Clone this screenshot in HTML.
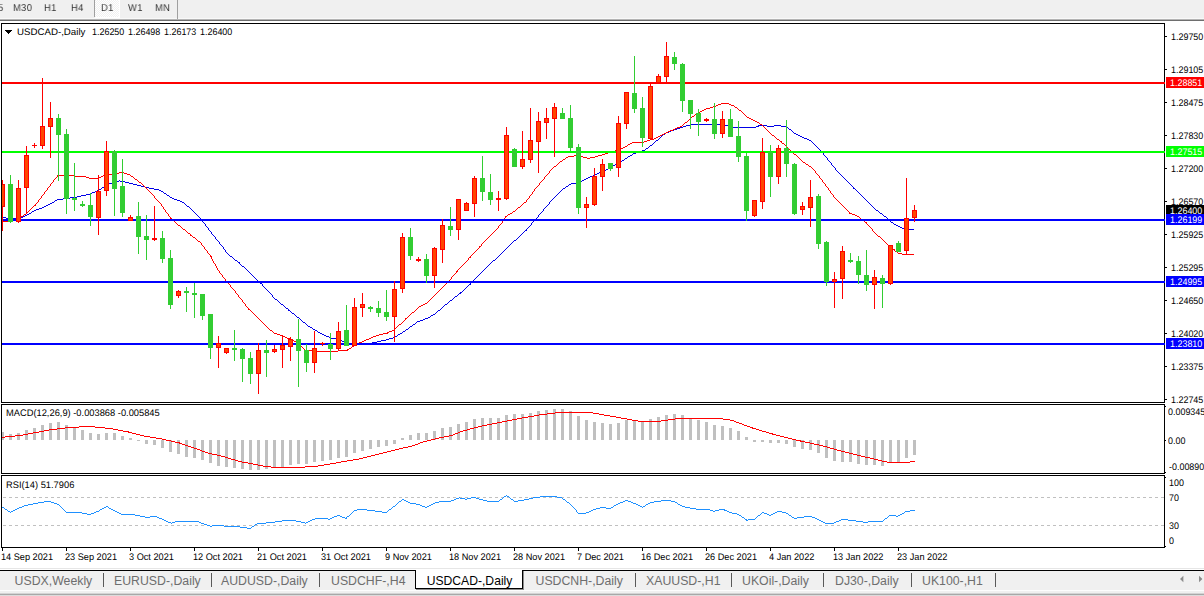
<!DOCTYPE html><html><head><meta charset="utf-8"><title>USDCAD-,Daily</title><style>

html,body{margin:0;padding:0;background:#fff;}
body{width:1204px;height:596px;position:relative;overflow:hidden;font-family:"Liberation Sans",sans-serif;}
.t{position:absolute;white-space:nowrap;line-height:1;color:#000;}
.ax{font-size:9.5px;transform:scaleX(.94);transform-origin:0 0;text-rendering:geometricPrecision;}
.tb{font-size:10px;color:#333;transform:scaleX(.93);transform-origin:0 0;text-rendering:geometricPrecision;letter-spacing:.45px;will-change:transform;}
.tab{font-size:12.3px;color:#6e6e6e;}
.tag{position:absolute;left:1166px;width:38px;height:11px;}
.tag span{position:absolute;left:4px;top:1.5px;font-size:9.5px;line-height:9.5px;color:#fff;white-space:nowrap;transform:scaleX(.94);text-rendering:geometricPrecision;transform-origin:0 0;}

</style></head><body>
<div style="position:absolute;left:0;top:0;width:1204px;height:19px;background:#f0f0f0"></div>
<div style="position:absolute;left:0;top:19px;width:1204px;height:1px;background:#b4b4b4"></div>
<div style="position:absolute;left:0;top:20px;width:1204px;height:1px;background:#6e6e6e"></div>
<div style="position:absolute;left:0;top:18px;width:1204px;height:1px;background:#f9f9f9"></div>
<div style="position:absolute;left:95px;top:0;width:25px;height:18px;background:#fff"></div>
<div style="position:absolute;left:95px;top:0;width:24px;height:17px;background:repeating-conic-gradient(#fff 0% 25%,#f0f0f0 0% 50%) 0 0/2px 2px"></div>
<div style="position:absolute;left:94px;top:0;width:1px;height:17px;background:#a0a0a0"></div>
<div style="position:absolute;left:177px;top:0;width:1px;height:19px;background:#a0a0a0"></div>
<svg width="1204" height="596" viewBox="0 0 1204 596" shape-rendering="crispEdges" style="position:absolute;left:0;top:0"><rect x="1" y="23" width="1164" height="1" fill="#000"/><rect x="1" y="402" width="1164" height="1" fill="#000"/><rect x="1" y="23" width="1" height="380" fill="#000"/><rect x="1164" y="23" width="1" height="380" fill="#000"/><rect x="1" y="404" width="1164" height="1" fill="#000"/><rect x="1" y="473" width="1164" height="1" fill="#000"/><rect x="1" y="404" width="1" height="70" fill="#000"/><rect x="1164" y="404" width="1" height="70" fill="#000"/><rect x="1" y="475" width="1164" height="1" fill="#000"/><rect x="1" y="547" width="1164" height="1" fill="#000"/><rect x="1" y="475" width="1" height="73" fill="#000"/><rect x="1164" y="475" width="1" height="73" fill="#000"/><rect x="691" y="124" width="30" height="1" fill="#0000e6"/><rect x="686" y="125" width="5" height="1" fill="#0000e6"/><rect x="721" y="125" width="8" height="1" fill="#0000e6"/><rect x="758" y="125" width="9" height="1" fill="#0000e6"/><rect x="774" y="125" width="7" height="1" fill="#0000e6"/><rect x="683" y="126" width="3" height="1" fill="#0000e6"/><rect x="729" y="126" width="4" height="1" fill="#0000e6"/><rect x="756" y="126" width="3" height="1" fill="#0000e6"/><rect x="767" y="126" width="7" height="1" fill="#0000e6"/><rect x="781" y="126" width="5" height="1" fill="#0000e6"/><rect x="680" y="127" width="3" height="1" fill="#0000e6"/><rect x="733" y="127" width="23" height="1" fill="#0000e6"/><rect x="786" y="127" width="2" height="1" fill="#0000e6"/><rect x="677" y="128" width="3" height="1" fill="#0000e6"/><rect x="674" y="129" width="3" height="1" fill="#0000e6"/><rect x="789" y="129" width="2" height="1" fill="#0000e6"/><rect x="671" y="130" width="3" height="1" fill="#0000e6"/><rect x="669" y="131" width="2" height="1" fill="#0000e6"/><rect x="666" y="132" width="3" height="1" fill="#0000e6"/><rect x="794" y="133" width="2" height="1" fill="#0000e6"/><rect x="663" y="134" width="2" height="1" fill="#0000e6"/><rect x="796" y="134" width="2" height="1" fill="#0000e6"/><rect x="798" y="135" width="2" height="1" fill="#0000e6"/><rect x="800" y="136" width="2" height="1" fill="#0000e6"/><rect x="802" y="137" width="2" height="1" fill="#0000e6"/><rect x="804" y="138" width="3" height="1" fill="#0000e6"/><rect x="807" y="139" width="2" height="1" fill="#0000e6"/><rect x="656" y="140" width="2" height="1" fill="#0000e6"/><rect x="809" y="140" width="2" height="1" fill="#0000e6"/><rect x="650" y="145" width="2" height="1" fill="#0000e6"/><rect x="646" y="148" width="2" height="1" fill="#0000e6"/><rect x="642" y="150" width="3" height="1" fill="#0000e6"/><rect x="639" y="151" width="3" height="1" fill="#0000e6"/><rect x="636" y="152" width="3" height="1" fill="#0000e6"/><rect x="633" y="153" width="3" height="1" fill="#0000e6"/><rect x="630" y="155" width="2" height="1" fill="#0000e6"/><rect x="628" y="156" width="2" height="1" fill="#0000e6"/><rect x="625" y="158" width="2" height="1" fill="#0000e6"/><rect x="622" y="160" width="2" height="1" fill="#0000e6"/><rect x="619" y="162" width="2" height="1" fill="#0000e6"/><rect x="617" y="163" width="2" height="1" fill="#0000e6"/><rect x="615" y="164" width="2" height="1" fill="#0000e6"/><rect x="613" y="165" width="2" height="1" fill="#0000e6"/><rect x="610" y="167" width="2" height="1" fill="#0000e6"/><rect x="608" y="168" width="2" height="1" fill="#0000e6"/><rect x="606" y="169" width="2" height="1" fill="#0000e6"/><rect x="604" y="170" width="2" height="1" fill="#0000e6"/><rect x="601" y="171" width="3" height="1" fill="#0000e6"/><rect x="599" y="172" width="2" height="1" fill="#0000e6"/><rect x="597" y="173" width="2" height="1" fill="#0000e6"/><rect x="595" y="174" width="2" height="1" fill="#0000e6"/><rect x="593" y="175" width="2" height="1" fill="#0000e6"/><rect x="590" y="176" width="3" height="1" fill="#0000e6"/><rect x="588" y="177" width="2" height="1" fill="#0000e6"/><rect x="586" y="178" width="2" height="1" fill="#0000e6"/><rect x="584" y="179" width="2" height="1" fill="#0000e6"/><rect x="582" y="180" width="2" height="1" fill="#0000e6"/><rect x="114" y="181" width="5" height="1" fill="#0000e6"/><rect x="120" y="181" width="5" height="1" fill="#0000e6"/><rect x="579" y="181" width="3" height="1" fill="#0000e6"/><rect x="112" y="182" width="2" height="1" fill="#0000e6"/><rect x="125" y="182" width="4" height="1" fill="#0000e6"/><rect x="577" y="182" width="2" height="1" fill="#0000e6"/><rect x="109" y="183" width="3" height="1" fill="#0000e6"/><rect x="129" y="183" width="4" height="1" fill="#0000e6"/><rect x="571" y="183" width="6" height="1" fill="#0000e6"/><rect x="107" y="184" width="2" height="1" fill="#0000e6"/><rect x="133" y="184" width="4" height="1" fill="#0000e6"/><rect x="569" y="184" width="2" height="1" fill="#0000e6"/><rect x="105" y="185" width="2" height="1" fill="#0000e6"/><rect x="137" y="185" width="4" height="1" fill="#0000e6"/><rect x="141" y="186" width="4" height="1" fill="#0000e6"/><rect x="566" y="186" width="2" height="1" fill="#0000e6"/><rect x="102" y="187" width="2" height="1" fill="#0000e6"/><rect x="145" y="187" width="4" height="1" fill="#0000e6"/><rect x="149" y="188" width="5" height="1" fill="#0000e6"/><rect x="563" y="188" width="2" height="1" fill="#0000e6"/><rect x="853" y="188" width="2" height="1" fill="#0000e6"/><rect x="99" y="189" width="2" height="1" fill="#0000e6"/><rect x="154" y="189" width="5" height="1" fill="#0000e6"/><rect x="97" y="190" width="2" height="1" fill="#0000e6"/><rect x="159" y="190" width="2" height="1" fill="#0000e6"/><rect x="95" y="191" width="2" height="1" fill="#0000e6"/><rect x="161" y="191" width="2" height="1" fill="#0000e6"/><rect x="92" y="192" width="3" height="1" fill="#0000e6"/><rect x="90" y="193" width="2" height="1" fill="#0000e6"/><rect x="164" y="193" width="2" height="1" fill="#0000e6"/><rect x="86" y="194" width="4" height="1" fill="#0000e6"/><rect x="81" y="195" width="5" height="1" fill="#0000e6"/><rect x="167" y="195" width="2" height="1" fill="#0000e6"/><rect x="77" y="196" width="4" height="1" fill="#0000e6"/><rect x="70" y="197" width="7" height="1" fill="#0000e6"/><rect x="170" y="197" width="2" height="1" fill="#0000e6"/><rect x="63" y="198" width="7" height="1" fill="#0000e6"/><rect x="172" y="198" width="2" height="1" fill="#0000e6"/><rect x="57" y="199" width="6" height="1" fill="#0000e6"/><rect x="174" y="199" width="3" height="1" fill="#0000e6"/><rect x="55" y="200" width="2" height="1" fill="#0000e6"/><rect x="177" y="200" width="3" height="1" fill="#0000e6"/><rect x="180" y="201" width="2" height="1" fill="#0000e6"/><rect x="52" y="202" width="2" height="1" fill="#0000e6"/><rect x="182" y="202" width="2" height="1" fill="#0000e6"/><rect x="50" y="203" width="2" height="1" fill="#0000e6"/><rect x="48" y="204" width="2" height="1" fill="#0000e6"/><rect x="46" y="205" width="2" height="1" fill="#0000e6"/><rect x="44" y="206" width="2" height="1" fill="#0000e6"/><rect x="187" y="206" width="2" height="1" fill="#0000e6"/><rect x="42" y="207" width="2" height="1" fill="#0000e6"/><rect x="39" y="208" width="3" height="1" fill="#0000e6"/><rect x="36" y="209" width="3" height="1" fill="#0000e6"/><rect x="34" y="210" width="2" height="1" fill="#0000e6"/><rect x="876" y="210" width="2" height="1" fill="#0000e6"/><rect x="32" y="211" width="2" height="1" fill="#0000e6"/><rect x="29" y="213" width="2" height="1" fill="#0000e6"/><rect x="880" y="213" width="2" height="1" fill="#0000e6"/><rect x="27" y="214" width="2" height="1" fill="#0000e6"/><rect x="25" y="215" width="2" height="1" fill="#0000e6"/><rect x="23" y="216" width="2" height="1" fill="#0000e6"/><rect x="884" y="216" width="2" height="1" fill="#0000e6"/><rect x="3" y="217" width="3" height="1" fill="#0000e6"/><rect x="21" y="217" width="2" height="1" fill="#0000e6"/><rect x="6" y="218" width="15" height="1" fill="#0000e6"/><rect x="891" y="222" width="2" height="1" fill="#0000e6"/><rect x="894" y="224" width="2" height="1" fill="#0000e6"/><rect x="896" y="225" width="2" height="1" fill="#0000e6"/><rect x="898" y="226" width="2" height="1" fill="#0000e6"/><rect x="900" y="227" width="2" height="1" fill="#0000e6"/><rect x="902" y="228" width="4" height="1" fill="#0000e6"/><rect x="906" y="229" width="8" height="1" fill="#0000e6"/><rect x="525" y="230" width="2" height="1" fill="#0000e6"/><rect x="514" y="240" width="2" height="1" fill="#0000e6"/><rect x="230" y="256" width="2" height="1" fill="#0000e6"/><rect x="235" y="260" width="2" height="1" fill="#0000e6"/><rect x="493" y="260" width="2" height="1" fill="#0000e6"/><rect x="238" y="262" width="2" height="1" fill="#0000e6"/><rect x="242" y="266" width="2" height="1" fill="#0000e6"/><rect x="260" y="283" width="2" height="1" fill="#0000e6"/><rect x="469" y="284" width="2" height="1" fill="#0000e6"/><rect x="460" y="292" width="2" height="1" fill="#0000e6"/><rect x="459" y="293" width="2" height="1" fill="#0000e6"/><rect x="455" y="296" width="2" height="1" fill="#0000e6"/><rect x="275" y="299" width="2" height="1" fill="#0000e6"/><rect x="450" y="300" width="2" height="1" fill="#0000e6"/><rect x="281" y="304" width="2" height="1" fill="#0000e6"/><rect x="445" y="304" width="2" height="1" fill="#0000e6"/><rect x="286" y="308" width="2" height="1" fill="#0000e6"/><rect x="288" y="310" width="2" height="1" fill="#0000e6"/><rect x="438" y="310" width="2" height="1" fill="#0000e6"/><rect x="292" y="313" width="2" height="1" fill="#0000e6"/><rect x="433" y="314" width="2" height="1" fill="#0000e6"/><rect x="431" y="315" width="2" height="1" fill="#0000e6"/><rect x="297" y="317" width="2" height="1" fill="#0000e6"/><rect x="428" y="317" width="2" height="1" fill="#0000e6"/><rect x="425" y="318" width="3" height="1" fill="#0000e6"/><rect x="423" y="319" width="2" height="1" fill="#0000e6"/><rect x="420" y="320" width="3" height="1" fill="#0000e6"/><rect x="417" y="321" width="3" height="1" fill="#0000e6"/><rect x="303" y="322" width="2" height="1" fill="#0000e6"/><rect x="413" y="324" width="2" height="1" fill="#0000e6"/><rect x="308" y="326" width="2" height="1" fill="#0000e6"/><rect x="410" y="326" width="2" height="1" fill="#0000e6"/><rect x="310" y="327" width="2" height="1" fill="#0000e6"/><rect x="313" y="329" width="2" height="1" fill="#0000e6"/><rect x="406" y="329" width="2" height="1" fill="#0000e6"/><rect x="315" y="330" width="2" height="1" fill="#0000e6"/><rect x="403" y="331" width="2" height="1" fill="#0000e6"/><rect x="318" y="332" width="2" height="1" fill="#0000e6"/><rect x="320" y="333" width="2" height="1" fill="#0000e6"/><rect x="400" y="333" width="2" height="1" fill="#0000e6"/><rect x="322" y="334" width="2" height="1" fill="#0000e6"/><rect x="398" y="334" width="2" height="1" fill="#0000e6"/><rect x="324" y="335" width="2" height="1" fill="#0000e6"/><rect x="326" y="336" width="3" height="1" fill="#0000e6"/><rect x="395" y="336" width="2" height="1" fill="#0000e6"/><rect x="329" y="337" width="2" height="1" fill="#0000e6"/><rect x="393" y="337" width="2" height="1" fill="#0000e6"/><rect x="330" y="338" width="8" height="1" fill="#0000e6"/><rect x="389" y="338" width="4" height="1" fill="#0000e6"/><rect x="338" y="339" width="2" height="1" fill="#0000e6"/><rect x="386" y="339" width="3" height="1" fill="#0000e6"/><rect x="340" y="340" width="2" height="1" fill="#0000e6"/><rect x="381" y="340" width="5" height="1" fill="#0000e6"/><rect x="342" y="341" width="2" height="1" fill="#0000e6"/><rect x="377" y="341" width="4" height="1" fill="#0000e6"/><rect x="344" y="342" width="3" height="1" fill="#0000e6"/><rect x="372" y="342" width="5" height="1" fill="#0000e6"/><rect x="346" y="343" width="26" height="1" fill="#0000e6"/><rect x="2" y="216" width="1" height="1" fill="#0000e6"/><rect x="31" y="212" width="1" height="1" fill="#0000e6"/><rect x="54" y="201" width="1" height="1" fill="#0000e6"/><rect x="101" y="188" width="1" height="1" fill="#0000e6"/><rect x="104" y="186" width="1" height="1" fill="#0000e6"/><rect x="119" y="180" width="1" height="1" fill="#0000e6"/><rect x="163" y="192" width="1" height="1" fill="#0000e6"/><rect x="166" y="194" width="1" height="1" fill="#0000e6"/><rect x="169" y="196" width="1" height="1" fill="#0000e6"/><rect x="184" y="203" width="1" height="1" fill="#0000e6"/><rect x="185" y="204" width="1" height="1" fill="#0000e6"/><rect x="186" y="205" width="1" height="1" fill="#0000e6"/><rect x="189" y="207" width="1" height="1" fill="#0000e6"/><rect x="190" y="208" width="1" height="1" fill="#0000e6"/><rect x="191" y="209" width="1" height="1" fill="#0000e6"/><rect x="192" y="210" width="1" height="1" fill="#0000e6"/><rect x="193" y="211" width="1" height="1" fill="#0000e6"/><rect x="194" y="212" width="1" height="1" fill="#0000e6"/><rect x="195" y="213" width="1" height="1" fill="#0000e6"/><rect x="196" y="214" width="1" height="1" fill="#0000e6"/><rect x="197" y="215" width="1" height="1" fill="#0000e6"/><rect x="198" y="216" width="1" height="1" fill="#0000e6"/><rect x="199" y="217" width="1" height="1" fill="#0000e6"/><rect x="200" y="218" width="1" height="1" fill="#0000e6"/><rect x="201" y="219" width="1" height="1" fill="#0000e6"/><rect x="202" y="220" width="1" height="2" fill="#0000e6"/><rect x="203" y="222" width="1" height="1" fill="#0000e6"/><rect x="204" y="223" width="1" height="1" fill="#0000e6"/><rect x="205" y="224" width="1" height="2" fill="#0000e6"/><rect x="206" y="226" width="1" height="1" fill="#0000e6"/><rect x="207" y="227" width="1" height="1" fill="#0000e6"/><rect x="208" y="228" width="1" height="2" fill="#0000e6"/><rect x="209" y="230" width="1" height="1" fill="#0000e6"/><rect x="210" y="231" width="1" height="1" fill="#0000e6"/><rect x="211" y="232" width="1" height="2" fill="#0000e6"/><rect x="212" y="234" width="1" height="1" fill="#0000e6"/><rect x="213" y="235" width="1" height="1" fill="#0000e6"/><rect x="214" y="236" width="1" height="1" fill="#0000e6"/><rect x="215" y="237" width="1" height="2" fill="#0000e6"/><rect x="216" y="239" width="1" height="1" fill="#0000e6"/><rect x="217" y="240" width="1" height="1" fill="#0000e6"/><rect x="218" y="241" width="1" height="1" fill="#0000e6"/><rect x="219" y="242" width="1" height="2" fill="#0000e6"/><rect x="220" y="244" width="1" height="1" fill="#0000e6"/><rect x="221" y="245" width="1" height="1" fill="#0000e6"/><rect x="222" y="246" width="1" height="1" fill="#0000e6"/><rect x="223" y="247" width="1" height="2" fill="#0000e6"/><rect x="224" y="249" width="1" height="1" fill="#0000e6"/><rect x="225" y="250" width="1" height="2" fill="#0000e6"/><rect x="226" y="252" width="1" height="1" fill="#0000e6"/><rect x="227" y="253" width="1" height="1" fill="#0000e6"/><rect x="228" y="254" width="1" height="1" fill="#0000e6"/><rect x="229" y="255" width="1" height="1" fill="#0000e6"/><rect x="232" y="257" width="1" height="1" fill="#0000e6"/><rect x="233" y="258" width="1" height="1" fill="#0000e6"/><rect x="234" y="259" width="1" height="1" fill="#0000e6"/><rect x="237" y="261" width="1" height="1" fill="#0000e6"/><rect x="239" y="263" width="1" height="1" fill="#0000e6"/><rect x="240" y="264" width="1" height="1" fill="#0000e6"/><rect x="241" y="265" width="1" height="1" fill="#0000e6"/><rect x="244" y="267" width="1" height="1" fill="#0000e6"/><rect x="245" y="268" width="1" height="1" fill="#0000e6"/><rect x="246" y="269" width="1" height="1" fill="#0000e6"/><rect x="247" y="270" width="1" height="1" fill="#0000e6"/><rect x="248" y="271" width="1" height="1" fill="#0000e6"/><rect x="249" y="272" width="1" height="1" fill="#0000e6"/><rect x="250" y="273" width="1" height="1" fill="#0000e6"/><rect x="251" y="274" width="1" height="1" fill="#0000e6"/><rect x="252" y="275" width="1" height="1" fill="#0000e6"/><rect x="253" y="276" width="1" height="1" fill="#0000e6"/><rect x="254" y="277" width="1" height="1" fill="#0000e6"/><rect x="255" y="278" width="1" height="1" fill="#0000e6"/><rect x="256" y="279" width="1" height="1" fill="#0000e6"/><rect x="257" y="280" width="1" height="1" fill="#0000e6"/><rect x="258" y="281" width="1" height="1" fill="#0000e6"/><rect x="259" y="282" width="1" height="1" fill="#0000e6"/><rect x="262" y="284" width="1" height="2" fill="#0000e6"/><rect x="263" y="286" width="1" height="1" fill="#0000e6"/><rect x="264" y="287" width="1" height="1" fill="#0000e6"/><rect x="265" y="288" width="1" height="1" fill="#0000e6"/><rect x="266" y="289" width="1" height="1" fill="#0000e6"/><rect x="267" y="290" width="1" height="1" fill="#0000e6"/><rect x="268" y="291" width="1" height="1" fill="#0000e6"/><rect x="269" y="292" width="1" height="1" fill="#0000e6"/><rect x="270" y="293" width="1" height="1" fill="#0000e6"/><rect x="271" y="294" width="1" height="1" fill="#0000e6"/><rect x="272" y="295" width="1" height="2" fill="#0000e6"/><rect x="273" y="297" width="1" height="1" fill="#0000e6"/><rect x="274" y="298" width="1" height="1" fill="#0000e6"/><rect x="277" y="300" width="1" height="1" fill="#0000e6"/><rect x="278" y="301" width="1" height="1" fill="#0000e6"/><rect x="279" y="302" width="1" height="1" fill="#0000e6"/><rect x="280" y="303" width="1" height="1" fill="#0000e6"/><rect x="283" y="305" width="1" height="1" fill="#0000e6"/><rect x="284" y="306" width="1" height="1" fill="#0000e6"/><rect x="285" y="307" width="1" height="1" fill="#0000e6"/><rect x="288" y="309" width="1" height="1" fill="#0000e6"/><rect x="290" y="311" width="1" height="1" fill="#0000e6"/><rect x="291" y="312" width="1" height="1" fill="#0000e6"/><rect x="294" y="314" width="1" height="1" fill="#0000e6"/><rect x="295" y="315" width="1" height="1" fill="#0000e6"/><rect x="296" y="316" width="1" height="1" fill="#0000e6"/><rect x="299" y="318" width="1" height="1" fill="#0000e6"/><rect x="300" y="319" width="1" height="1" fill="#0000e6"/><rect x="301" y="320" width="1" height="1" fill="#0000e6"/><rect x="302" y="321" width="1" height="1" fill="#0000e6"/><rect x="305" y="323" width="1" height="1" fill="#0000e6"/><rect x="306" y="324" width="1" height="1" fill="#0000e6"/><rect x="307" y="325" width="1" height="1" fill="#0000e6"/><rect x="312" y="328" width="1" height="1" fill="#0000e6"/><rect x="317" y="331" width="1" height="1" fill="#0000e6"/><rect x="397" y="335" width="1" height="1" fill="#0000e6"/><rect x="402" y="332" width="1" height="1" fill="#0000e6"/><rect x="405" y="330" width="1" height="1" fill="#0000e6"/><rect x="408" y="328" width="1" height="1" fill="#0000e6"/><rect x="409" y="327" width="1" height="1" fill="#0000e6"/><rect x="412" y="325" width="1" height="1" fill="#0000e6"/><rect x="415" y="323" width="1" height="1" fill="#0000e6"/><rect x="416" y="322" width="1" height="1" fill="#0000e6"/><rect x="430" y="316" width="1" height="1" fill="#0000e6"/><rect x="435" y="313" width="1" height="1" fill="#0000e6"/><rect x="436" y="312" width="1" height="1" fill="#0000e6"/><rect x="437" y="311" width="1" height="1" fill="#0000e6"/><rect x="440" y="309" width="1" height="1" fill="#0000e6"/><rect x="441" y="308" width="1" height="1" fill="#0000e6"/><rect x="442" y="307" width="1" height="1" fill="#0000e6"/><rect x="443" y="306" width="1" height="1" fill="#0000e6"/><rect x="444" y="305" width="1" height="1" fill="#0000e6"/><rect x="447" y="303" width="1" height="1" fill="#0000e6"/><rect x="448" y="302" width="1" height="1" fill="#0000e6"/><rect x="449" y="301" width="1" height="1" fill="#0000e6"/><rect x="452" y="299" width="1" height="1" fill="#0000e6"/><rect x="453" y="298" width="1" height="1" fill="#0000e6"/><rect x="454" y="297" width="1" height="1" fill="#0000e6"/><rect x="457" y="295" width="1" height="1" fill="#0000e6"/><rect x="458" y="294" width="1" height="1" fill="#0000e6"/><rect x="462" y="291" width="1" height="1" fill="#0000e6"/><rect x="463" y="290" width="1" height="1" fill="#0000e6"/><rect x="464" y="289" width="1" height="1" fill="#0000e6"/><rect x="465" y="288" width="1" height="1" fill="#0000e6"/><rect x="466" y="287" width="1" height="1" fill="#0000e6"/><rect x="467" y="286" width="1" height="1" fill="#0000e6"/><rect x="468" y="285" width="1" height="1" fill="#0000e6"/><rect x="470" y="283" width="1" height="1" fill="#0000e6"/><rect x="471" y="282" width="1" height="1" fill="#0000e6"/><rect x="472" y="281" width="1" height="1" fill="#0000e6"/><rect x="473" y="280" width="1" height="1" fill="#0000e6"/><rect x="474" y="279" width="1" height="1" fill="#0000e6"/><rect x="475" y="278" width="1" height="1" fill="#0000e6"/><rect x="476" y="277" width="1" height="1" fill="#0000e6"/><rect x="477" y="276" width="1" height="1" fill="#0000e6"/><rect x="478" y="275" width="1" height="1" fill="#0000e6"/><rect x="479" y="274" width="1" height="1" fill="#0000e6"/><rect x="480" y="273" width="1" height="1" fill="#0000e6"/><rect x="481" y="272" width="1" height="1" fill="#0000e6"/><rect x="482" y="271" width="1" height="1" fill="#0000e6"/><rect x="483" y="270" width="1" height="1" fill="#0000e6"/><rect x="484" y="269" width="1" height="1" fill="#0000e6"/><rect x="485" y="268" width="1" height="1" fill="#0000e6"/><rect x="486" y="267" width="1" height="1" fill="#0000e6"/><rect x="487" y="266" width="1" height="1" fill="#0000e6"/><rect x="488" y="265" width="1" height="1" fill="#0000e6"/><rect x="489" y="264" width="1" height="1" fill="#0000e6"/><rect x="490" y="263" width="1" height="1" fill="#0000e6"/><rect x="491" y="262" width="1" height="1" fill="#0000e6"/><rect x="492" y="261" width="1" height="1" fill="#0000e6"/><rect x="495" y="259" width="1" height="1" fill="#0000e6"/><rect x="496" y="258" width="1" height="1" fill="#0000e6"/><rect x="497" y="257" width="1" height="1" fill="#0000e6"/><rect x="498" y="256" width="1" height="1" fill="#0000e6"/><rect x="499" y="255" width="1" height="1" fill="#0000e6"/><rect x="500" y="254" width="1" height="1" fill="#0000e6"/><rect x="501" y="253" width="1" height="1" fill="#0000e6"/><rect x="502" y="252" width="1" height="1" fill="#0000e6"/><rect x="503" y="251" width="1" height="1" fill="#0000e6"/><rect x="504" y="250" width="1" height="1" fill="#0000e6"/><rect x="505" y="249" width="1" height="1" fill="#0000e6"/><rect x="506" y="248" width="1" height="1" fill="#0000e6"/><rect x="507" y="247" width="1" height="1" fill="#0000e6"/><rect x="508" y="246" width="1" height="1" fill="#0000e6"/><rect x="509" y="245" width="1" height="1" fill="#0000e6"/><rect x="510" y="244" width="1" height="1" fill="#0000e6"/><rect x="511" y="243" width="1" height="1" fill="#0000e6"/><rect x="512" y="242" width="1" height="1" fill="#0000e6"/><rect x="513" y="241" width="1" height="1" fill="#0000e6"/><rect x="516" y="239" width="1" height="1" fill="#0000e6"/><rect x="517" y="238" width="1" height="1" fill="#0000e6"/><rect x="518" y="237" width="1" height="1" fill="#0000e6"/><rect x="519" y="236" width="1" height="1" fill="#0000e6"/><rect x="520" y="235" width="1" height="1" fill="#0000e6"/><rect x="521" y="234" width="1" height="1" fill="#0000e6"/><rect x="522" y="233" width="1" height="1" fill="#0000e6"/><rect x="523" y="232" width="1" height="1" fill="#0000e6"/><rect x="524" y="231" width="1" height="1" fill="#0000e6"/><rect x="526" y="229" width="1" height="1" fill="#0000e6"/><rect x="527" y="228" width="1" height="1" fill="#0000e6"/><rect x="528" y="227" width="1" height="1" fill="#0000e6"/><rect x="529" y="226" width="1" height="1" fill="#0000e6"/><rect x="530" y="225" width="1" height="1" fill="#0000e6"/><rect x="531" y="223" width="1" height="2" fill="#0000e6"/><rect x="532" y="222" width="1" height="1" fill="#0000e6"/><rect x="533" y="221" width="1" height="1" fill="#0000e6"/><rect x="534" y="220" width="1" height="1" fill="#0000e6"/><rect x="535" y="219" width="1" height="1" fill="#0000e6"/><rect x="536" y="218" width="1" height="1" fill="#0000e6"/><rect x="537" y="217" width="1" height="1" fill="#0000e6"/><rect x="538" y="215" width="1" height="2" fill="#0000e6"/><rect x="539" y="214" width="1" height="1" fill="#0000e6"/><rect x="540" y="213" width="1" height="1" fill="#0000e6"/><rect x="541" y="212" width="1" height="1" fill="#0000e6"/><rect x="542" y="211" width="1" height="1" fill="#0000e6"/><rect x="543" y="209" width="1" height="2" fill="#0000e6"/><rect x="544" y="208" width="1" height="1" fill="#0000e6"/><rect x="545" y="207" width="1" height="1" fill="#0000e6"/><rect x="546" y="206" width="1" height="1" fill="#0000e6"/><rect x="547" y="205" width="1" height="1" fill="#0000e6"/><rect x="548" y="204" width="1" height="1" fill="#0000e6"/><rect x="549" y="202" width="1" height="2" fill="#0000e6"/><rect x="550" y="201" width="1" height="1" fill="#0000e6"/><rect x="551" y="200" width="1" height="1" fill="#0000e6"/><rect x="552" y="199" width="1" height="1" fill="#0000e6"/><rect x="553" y="198" width="1" height="1" fill="#0000e6"/><rect x="554" y="197" width="1" height="1" fill="#0000e6"/><rect x="555" y="196" width="1" height="1" fill="#0000e6"/><rect x="556" y="195" width="1" height="1" fill="#0000e6"/><rect x="557" y="194" width="1" height="1" fill="#0000e6"/><rect x="558" y="193" width="1" height="1" fill="#0000e6"/><rect x="559" y="192" width="1" height="1" fill="#0000e6"/><rect x="560" y="191" width="1" height="1" fill="#0000e6"/><rect x="561" y="190" width="1" height="1" fill="#0000e6"/><rect x="562" y="189" width="1" height="1" fill="#0000e6"/><rect x="565" y="187" width="1" height="1" fill="#0000e6"/><rect x="568" y="185" width="1" height="1" fill="#0000e6"/><rect x="612" y="166" width="1" height="1" fill="#0000e6"/><rect x="621" y="161" width="1" height="1" fill="#0000e6"/><rect x="624" y="159" width="1" height="1" fill="#0000e6"/><rect x="627" y="157" width="1" height="1" fill="#0000e6"/><rect x="632" y="154" width="1" height="1" fill="#0000e6"/><rect x="645" y="149" width="1" height="1" fill="#0000e6"/><rect x="648" y="147" width="1" height="1" fill="#0000e6"/><rect x="649" y="146" width="1" height="1" fill="#0000e6"/><rect x="652" y="144" width="1" height="1" fill="#0000e6"/><rect x="653" y="143" width="1" height="1" fill="#0000e6"/><rect x="654" y="142" width="1" height="1" fill="#0000e6"/><rect x="655" y="141" width="1" height="1" fill="#0000e6"/><rect x="658" y="139" width="1" height="1" fill="#0000e6"/><rect x="659" y="138" width="1" height="1" fill="#0000e6"/><rect x="660" y="137" width="1" height="1" fill="#0000e6"/><rect x="661" y="136" width="1" height="1" fill="#0000e6"/><rect x="662" y="135" width="1" height="1" fill="#0000e6"/><rect x="665" y="133" width="1" height="1" fill="#0000e6"/><rect x="788" y="128" width="1" height="1" fill="#0000e6"/><rect x="791" y="130" width="1" height="1" fill="#0000e6"/><rect x="792" y="131" width="1" height="1" fill="#0000e6"/><rect x="793" y="132" width="1" height="1" fill="#0000e6"/><rect x="811" y="141" width="1" height="1" fill="#0000e6"/><rect x="812" y="142" width="1" height="1" fill="#0000e6"/><rect x="813" y="143" width="1" height="1" fill="#0000e6"/><rect x="814" y="144" width="1" height="1" fill="#0000e6"/><rect x="815" y="145" width="1" height="1" fill="#0000e6"/><rect x="816" y="146" width="1" height="1" fill="#0000e6"/><rect x="817" y="147" width="1" height="1" fill="#0000e6"/><rect x="818" y="148" width="1" height="1" fill="#0000e6"/><rect x="819" y="149" width="1" height="1" fill="#0000e6"/><rect x="820" y="150" width="1" height="1" fill="#0000e6"/><rect x="821" y="151" width="1" height="1" fill="#0000e6"/><rect x="822" y="152" width="1" height="1" fill="#0000e6"/><rect x="823" y="153" width="1" height="2" fill="#0000e6"/><rect x="824" y="155" width="1" height="1" fill="#0000e6"/><rect x="825" y="156" width="1" height="1" fill="#0000e6"/><rect x="826" y="157" width="1" height="1" fill="#0000e6"/><rect x="827" y="158" width="1" height="2" fill="#0000e6"/><rect x="828" y="160" width="1" height="1" fill="#0000e6"/><rect x="829" y="161" width="1" height="1" fill="#0000e6"/><rect x="830" y="162" width="1" height="1" fill="#0000e6"/><rect x="831" y="163" width="1" height="2" fill="#0000e6"/><rect x="832" y="165" width="1" height="1" fill="#0000e6"/><rect x="833" y="166" width="1" height="1" fill="#0000e6"/><rect x="834" y="167" width="1" height="1" fill="#0000e6"/><rect x="835" y="168" width="1" height="2" fill="#0000e6"/><rect x="836" y="170" width="1" height="1" fill="#0000e6"/><rect x="837" y="171" width="1" height="1" fill="#0000e6"/><rect x="838" y="172" width="1" height="1" fill="#0000e6"/><rect x="839" y="173" width="1" height="1" fill="#0000e6"/><rect x="840" y="174" width="1" height="1" fill="#0000e6"/><rect x="841" y="175" width="1" height="1" fill="#0000e6"/><rect x="842" y="176" width="1" height="1" fill="#0000e6"/><rect x="843" y="177" width="1" height="1" fill="#0000e6"/><rect x="844" y="178" width="1" height="1" fill="#0000e6"/><rect x="845" y="179" width="1" height="1" fill="#0000e6"/><rect x="846" y="180" width="1" height="1" fill="#0000e6"/><rect x="847" y="181" width="1" height="1" fill="#0000e6"/><rect x="848" y="182" width="1" height="1" fill="#0000e6"/><rect x="849" y="183" width="1" height="1" fill="#0000e6"/><rect x="850" y="184" width="1" height="1" fill="#0000e6"/><rect x="851" y="185" width="1" height="1" fill="#0000e6"/><rect x="852" y="186" width="1" height="1" fill="#0000e6"/><rect x="853" y="187" width="1" height="1" fill="#0000e6"/><rect x="855" y="189" width="1" height="1" fill="#0000e6"/><rect x="856" y="190" width="1" height="1" fill="#0000e6"/><rect x="857" y="191" width="1" height="1" fill="#0000e6"/><rect x="858" y="192" width="1" height="1" fill="#0000e6"/><rect x="859" y="193" width="1" height="1" fill="#0000e6"/><rect x="860" y="194" width="1" height="1" fill="#0000e6"/><rect x="861" y="195" width="1" height="1" fill="#0000e6"/><rect x="862" y="196" width="1" height="1" fill="#0000e6"/><rect x="863" y="197" width="1" height="1" fill="#0000e6"/><rect x="864" y="198" width="1" height="1" fill="#0000e6"/><rect x="865" y="199" width="1" height="1" fill="#0000e6"/><rect x="866" y="200" width="1" height="1" fill="#0000e6"/><rect x="867" y="201" width="1" height="1" fill="#0000e6"/><rect x="868" y="202" width="1" height="1" fill="#0000e6"/><rect x="869" y="203" width="1" height="1" fill="#0000e6"/><rect x="870" y="204" width="1" height="1" fill="#0000e6"/><rect x="871" y="205" width="1" height="1" fill="#0000e6"/><rect x="872" y="206" width="1" height="1" fill="#0000e6"/><rect x="873" y="207" width="1" height="1" fill="#0000e6"/><rect x="874" y="208" width="1" height="1" fill="#0000e6"/><rect x="875" y="209" width="1" height="1" fill="#0000e6"/><rect x="878" y="211" width="1" height="1" fill="#0000e6"/><rect x="879" y="212" width="1" height="1" fill="#0000e6"/><rect x="882" y="214" width="1" height="1" fill="#0000e6"/><rect x="883" y="215" width="1" height="1" fill="#0000e6"/><rect x="886" y="217" width="1" height="1" fill="#0000e6"/><rect x="887" y="218" width="1" height="1" fill="#0000e6"/><rect x="888" y="219" width="1" height="1" fill="#0000e6"/><rect x="889" y="220" width="1" height="1" fill="#0000e6"/><rect x="890" y="221" width="1" height="1" fill="#0000e6"/><rect x="893" y="223" width="1" height="1" fill="#0000e6"/><rect x="721" y="103" width="8" height="1" fill="#ff0000"/><rect x="718" y="104" width="3" height="1" fill="#ff0000"/><rect x="729" y="104" width="2" height="1" fill="#ff0000"/><rect x="716" y="105" width="2" height="1" fill="#ff0000"/><rect x="731" y="105" width="3" height="1" fill="#ff0000"/><rect x="713" y="106" width="3" height="1" fill="#ff0000"/><rect x="710" y="107" width="3" height="1" fill="#ff0000"/><rect x="735" y="107" width="2" height="1" fill="#ff0000"/><rect x="706" y="108" width="4" height="1" fill="#ff0000"/><rect x="704" y="109" width="2" height="1" fill="#ff0000"/><rect x="702" y="110" width="2" height="1" fill="#ff0000"/><rect x="739" y="110" width="2" height="1" fill="#ff0000"/><rect x="700" y="111" width="2" height="1" fill="#ff0000"/><rect x="697" y="113" width="2" height="1" fill="#ff0000"/><rect x="695" y="114" width="2" height="1" fill="#ff0000"/><rect x="692" y="116" width="2" height="1" fill="#ff0000"/><rect x="747" y="117" width="2" height="1" fill="#ff0000"/><rect x="749" y="118" width="2" height="1" fill="#ff0000"/><rect x="751" y="119" width="2" height="1" fill="#ff0000"/><rect x="753" y="120" width="2" height="1" fill="#ff0000"/><rect x="755" y="121" width="2" height="1" fill="#ff0000"/><rect x="685" y="122" width="2" height="1" fill="#ff0000"/><rect x="757" y="122" width="2" height="1" fill="#ff0000"/><rect x="760" y="124" width="2" height="1" fill="#ff0000"/><rect x="680" y="126" width="2" height="1" fill="#ff0000"/><rect x="677" y="127" width="3" height="1" fill="#ff0000"/><rect x="675" y="128" width="2" height="1" fill="#ff0000"/><rect x="673" y="129" width="2" height="1" fill="#ff0000"/><rect x="670" y="130" width="3" height="1" fill="#ff0000"/><rect x="668" y="131" width="2" height="1" fill="#ff0000"/><rect x="666" y="132" width="2" height="1" fill="#ff0000"/><rect x="664" y="133" width="2" height="1" fill="#ff0000"/><rect x="662" y="134" width="2" height="1" fill="#ff0000"/><rect x="660" y="135" width="2" height="1" fill="#ff0000"/><rect x="772" y="135" width="2" height="1" fill="#ff0000"/><rect x="658" y="136" width="2" height="1" fill="#ff0000"/><rect x="656" y="137" width="2" height="1" fill="#ff0000"/><rect x="654" y="138" width="2" height="1" fill="#ff0000"/><rect x="650" y="139" width="4" height="1" fill="#ff0000"/><rect x="777" y="139" width="2" height="1" fill="#ff0000"/><rect x="647" y="140" width="3" height="1" fill="#ff0000"/><rect x="644" y="141" width="3" height="1" fill="#ff0000"/><rect x="780" y="141" width="2" height="1" fill="#ff0000"/><rect x="632" y="142" width="12" height="1" fill="#ff0000"/><rect x="630" y="143" width="2" height="1" fill="#ff0000"/><rect x="782" y="143" width="2" height="1" fill="#ff0000"/><rect x="628" y="144" width="2" height="1" fill="#ff0000"/><rect x="625" y="146" width="2" height="1" fill="#ff0000"/><rect x="623" y="147" width="2" height="1" fill="#ff0000"/><rect x="621" y="148" width="2" height="1" fill="#ff0000"/><rect x="618" y="149" width="3" height="1" fill="#ff0000"/><rect x="615" y="150" width="3" height="1" fill="#ff0000"/><rect x="611" y="151" width="4" height="1" fill="#ff0000"/><rect x="608" y="152" width="3" height="1" fill="#ff0000"/><rect x="605" y="153" width="3" height="1" fill="#ff0000"/><rect x="602" y="154" width="3" height="1" fill="#ff0000"/><rect x="794" y="154" width="2" height="1" fill="#ff0000"/><rect x="574" y="155" width="3" height="1" fill="#ff0000"/><rect x="598" y="155" width="4" height="1" fill="#ff0000"/><rect x="568" y="156" width="6" height="1" fill="#ff0000"/><rect x="577" y="156" width="6" height="1" fill="#ff0000"/><rect x="595" y="156" width="3" height="1" fill="#ff0000"/><rect x="566" y="157" width="2" height="1" fill="#ff0000"/><rect x="583" y="157" width="4" height="1" fill="#ff0000"/><rect x="590" y="157" width="5" height="1" fill="#ff0000"/><rect x="587" y="158" width="3" height="1" fill="#ff0000"/><rect x="563" y="159" width="2" height="1" fill="#ff0000"/><rect x="560" y="161" width="2" height="1" fill="#ff0000"/><rect x="803" y="162" width="2" height="1" fill="#ff0000"/><rect x="806" y="164" width="2" height="1" fill="#ff0000"/><rect x="554" y="166" width="2" height="1" fill="#ff0000"/><rect x="809" y="166" width="2" height="1" fill="#ff0000"/><rect x="119" y="172" width="5" height="1" fill="#ff0000"/><rect x="116" y="173" width="3" height="1" fill="#ff0000"/><rect x="124" y="173" width="3" height="1" fill="#ff0000"/><rect x="105" y="174" width="11" height="1" fill="#ff0000"/><rect x="127" y="174" width="3" height="1" fill="#ff0000"/><rect x="57" y="175" width="17" height="1" fill="#ff0000"/><rect x="103" y="175" width="2" height="1" fill="#ff0000"/><rect x="74" y="176" width="12" height="1" fill="#ff0000"/><rect x="101" y="176" width="2" height="1" fill="#ff0000"/><rect x="131" y="176" width="2" height="1" fill="#ff0000"/><rect x="86" y="177" width="3" height="1" fill="#ff0000"/><rect x="99" y="177" width="2" height="1" fill="#ff0000"/><rect x="89" y="178" width="10" height="1" fill="#ff0000"/><rect x="135" y="179" width="2" height="1" fill="#ff0000"/><rect x="139" y="182" width="2" height="1" fill="#ff0000"/><rect x="524" y="202" width="2" height="1" fill="#ff0000"/><rect x="34" y="205" width="2" height="1" fill="#ff0000"/><rect x="518" y="207" width="2" height="1" fill="#ff0000"/><rect x="513" y="211" width="2" height="1" fill="#ff0000"/><rect x="510" y="213" width="2" height="1" fill="#ff0000"/><rect x="849" y="213" width="3" height="1" fill="#ff0000"/><rect x="24" y="214" width="2" height="1" fill="#ff0000"/><rect x="508" y="214" width="2" height="1" fill="#ff0000"/><rect x="852" y="214" width="3" height="1" fill="#ff0000"/><rect x="855" y="215" width="2" height="1" fill="#ff0000"/><rect x="21" y="216" width="2" height="1" fill="#ff0000"/><rect x="505" y="216" width="2" height="1" fill="#ff0000"/><rect x="857" y="216" width="2" height="1" fill="#ff0000"/><rect x="18" y="218" width="2" height="1" fill="#ff0000"/><rect x="170" y="218" width="2" height="1" fill="#ff0000"/><rect x="14" y="219" width="5" height="1" fill="#ff0000"/><rect x="861" y="219" width="2" height="1" fill="#ff0000"/><rect x="10" y="220" width="4" height="1" fill="#ff0000"/><rect x="2" y="221" width="9" height="1" fill="#ff0000"/><rect x="865" y="222" width="2" height="1" fill="#ff0000"/><rect x="178" y="225" width="2" height="1" fill="#ff0000"/><rect x="183" y="229" width="2" height="1" fill="#ff0000"/><rect x="188" y="233" width="2" height="1" fill="#ff0000"/><rect x="190" y="235" width="2" height="1" fill="#ff0000"/><rect x="878" y="236" width="2" height="1" fill="#ff0000"/><rect x="193" y="237" width="2" height="1" fill="#ff0000"/><rect x="198" y="241" width="2" height="1" fill="#ff0000"/><rect x="479" y="246" width="2" height="1" fill="#ff0000"/><rect x="889" y="246" width="2" height="1" fill="#ff0000"/><rect x="893" y="249" width="2" height="1" fill="#ff0000"/><rect x="895" y="251" width="2" height="1" fill="#ff0000"/><rect x="898" y="253" width="4" height="1" fill="#ff0000"/><rect x="902" y="254" width="12" height="1" fill="#ff0000"/><rect x="210" y="256" width="2" height="1" fill="#ff0000"/><rect x="469" y="257" width="2" height="1" fill="#ff0000"/><rect x="456" y="271" width="2" height="1" fill="#ff0000"/><rect x="425" y="303" width="2" height="1" fill="#ff0000"/><rect x="423" y="304" width="2" height="1" fill="#ff0000"/><rect x="421" y="305" width="2" height="1" fill="#ff0000"/><rect x="419" y="306" width="2" height="1" fill="#ff0000"/><rect x="248" y="309" width="2" height="1" fill="#ff0000"/><rect x="412" y="312" width="2" height="1" fill="#ff0000"/><rect x="405" y="318" width="2" height="1" fill="#ff0000"/><rect x="399" y="324" width="2" height="1" fill="#ff0000"/><rect x="270" y="330" width="2" height="1" fill="#ff0000"/><rect x="392" y="330" width="2" height="1" fill="#ff0000"/><rect x="389" y="331" width="3" height="1" fill="#ff0000"/><rect x="387" y="332" width="2" height="1" fill="#ff0000"/><rect x="274" y="333" width="3" height="1" fill="#ff0000"/><rect x="383" y="333" width="5" height="1" fill="#ff0000"/><rect x="277" y="334" width="3" height="1" fill="#ff0000"/><rect x="379" y="334" width="4" height="1" fill="#ff0000"/><rect x="280" y="335" width="3" height="1" fill="#ff0000"/><rect x="376" y="335" width="3" height="1" fill="#ff0000"/><rect x="283" y="336" width="2" height="1" fill="#ff0000"/><rect x="373" y="336" width="3" height="1" fill="#ff0000"/><rect x="285" y="337" width="2" height="1" fill="#ff0000"/><rect x="371" y="337" width="2" height="1" fill="#ff0000"/><rect x="287" y="338" width="3" height="1" fill="#ff0000"/><rect x="369" y="338" width="2" height="1" fill="#ff0000"/><rect x="290" y="339" width="2" height="1" fill="#ff0000"/><rect x="366" y="339" width="3" height="1" fill="#ff0000"/><rect x="292" y="340" width="2" height="1" fill="#ff0000"/><rect x="364" y="340" width="2" height="1" fill="#ff0000"/><rect x="294" y="341" width="2" height="1" fill="#ff0000"/><rect x="362" y="341" width="2" height="1" fill="#ff0000"/><rect x="359" y="342" width="3" height="1" fill="#ff0000"/><rect x="357" y="343" width="2" height="1" fill="#ff0000"/><rect x="299" y="345" width="2" height="1" fill="#ff0000"/><rect x="354" y="345" width="2" height="1" fill="#ff0000"/><rect x="352" y="346" width="2" height="1" fill="#ff0000"/><rect x="349" y="348" width="2" height="1" fill="#ff0000"/><rect x="347" y="349" width="2" height="1" fill="#ff0000"/><rect x="305" y="350" width="7" height="1" fill="#ff0000"/><rect x="338" y="350" width="10" height="1" fill="#ff0000"/><rect x="312" y="351" width="26" height="1" fill="#ff0000"/><rect x="20" y="217" width="1" height="1" fill="#ff0000"/><rect x="23" y="215" width="1" height="1" fill="#ff0000"/><rect x="26" y="213" width="1" height="1" fill="#ff0000"/><rect x="27" y="212" width="1" height="1" fill="#ff0000"/><rect x="28" y="211" width="1" height="1" fill="#ff0000"/><rect x="29" y="210" width="1" height="1" fill="#ff0000"/><rect x="30" y="209" width="1" height="1" fill="#ff0000"/><rect x="31" y="208" width="1" height="1" fill="#ff0000"/><rect x="32" y="207" width="1" height="1" fill="#ff0000"/><rect x="33" y="206" width="1" height="1" fill="#ff0000"/><rect x="35" y="204" width="1" height="1" fill="#ff0000"/><rect x="36" y="203" width="1" height="1" fill="#ff0000"/><rect x="37" y="202" width="1" height="1" fill="#ff0000"/><rect x="38" y="200" width="1" height="2" fill="#ff0000"/><rect x="39" y="199" width="1" height="1" fill="#ff0000"/><rect x="40" y="198" width="1" height="1" fill="#ff0000"/><rect x="41" y="196" width="1" height="2" fill="#ff0000"/><rect x="42" y="195" width="1" height="1" fill="#ff0000"/><rect x="43" y="194" width="1" height="1" fill="#ff0000"/><rect x="44" y="192" width="1" height="2" fill="#ff0000"/><rect x="45" y="191" width="1" height="1" fill="#ff0000"/><rect x="46" y="190" width="1" height="1" fill="#ff0000"/><rect x="47" y="188" width="1" height="2" fill="#ff0000"/><rect x="48" y="187" width="1" height="1" fill="#ff0000"/><rect x="49" y="186" width="1" height="1" fill="#ff0000"/><rect x="50" y="184" width="1" height="2" fill="#ff0000"/><rect x="51" y="183" width="1" height="1" fill="#ff0000"/><rect x="52" y="182" width="1" height="1" fill="#ff0000"/><rect x="53" y="180" width="1" height="2" fill="#ff0000"/><rect x="54" y="179" width="1" height="1" fill="#ff0000"/><rect x="55" y="178" width="1" height="1" fill="#ff0000"/><rect x="56" y="177" width="1" height="1" fill="#ff0000"/><rect x="57" y="176" width="1" height="1" fill="#ff0000"/><rect x="130" y="175" width="1" height="1" fill="#ff0000"/><rect x="133" y="177" width="1" height="1" fill="#ff0000"/><rect x="134" y="178" width="1" height="1" fill="#ff0000"/><rect x="137" y="180" width="1" height="1" fill="#ff0000"/><rect x="138" y="181" width="1" height="1" fill="#ff0000"/><rect x="141" y="183" width="1" height="1" fill="#ff0000"/><rect x="142" y="184" width="1" height="1" fill="#ff0000"/><rect x="143" y="185" width="1" height="1" fill="#ff0000"/><rect x="144" y="186" width="1" height="1" fill="#ff0000"/><rect x="145" y="187" width="1" height="1" fill="#ff0000"/><rect x="146" y="188" width="1" height="1" fill="#ff0000"/><rect x="147" y="189" width="1" height="1" fill="#ff0000"/><rect x="148" y="190" width="1" height="1" fill="#ff0000"/><rect x="149" y="191" width="1" height="1" fill="#ff0000"/><rect x="150" y="192" width="1" height="1" fill="#ff0000"/><rect x="151" y="193" width="1" height="1" fill="#ff0000"/><rect x="152" y="194" width="1" height="1" fill="#ff0000"/><rect x="153" y="195" width="1" height="1" fill="#ff0000"/><rect x="154" y="196" width="1" height="2" fill="#ff0000"/><rect x="155" y="198" width="1" height="1" fill="#ff0000"/><rect x="156" y="199" width="1" height="1" fill="#ff0000"/><rect x="157" y="200" width="1" height="1" fill="#ff0000"/><rect x="158" y="201" width="1" height="1" fill="#ff0000"/><rect x="159" y="202" width="1" height="1" fill="#ff0000"/><rect x="160" y="203" width="1" height="1" fill="#ff0000"/><rect x="161" y="204" width="1" height="2" fill="#ff0000"/><rect x="162" y="206" width="1" height="1" fill="#ff0000"/><rect x="163" y="207" width="1" height="2" fill="#ff0000"/><rect x="164" y="209" width="1" height="1" fill="#ff0000"/><rect x="165" y="210" width="1" height="2" fill="#ff0000"/><rect x="166" y="212" width="1" height="1" fill="#ff0000"/><rect x="167" y="213" width="1" height="1" fill="#ff0000"/><rect x="168" y="214" width="1" height="2" fill="#ff0000"/><rect x="169" y="216" width="1" height="1" fill="#ff0000"/><rect x="170" y="217" width="1" height="1" fill="#ff0000"/><rect x="172" y="219" width="1" height="1" fill="#ff0000"/><rect x="173" y="220" width="1" height="1" fill="#ff0000"/><rect x="174" y="221" width="1" height="1" fill="#ff0000"/><rect x="175" y="222" width="1" height="1" fill="#ff0000"/><rect x="176" y="223" width="1" height="1" fill="#ff0000"/><rect x="177" y="224" width="1" height="1" fill="#ff0000"/><rect x="180" y="226" width="1" height="1" fill="#ff0000"/><rect x="181" y="227" width="1" height="1" fill="#ff0000"/><rect x="182" y="228" width="1" height="1" fill="#ff0000"/><rect x="185" y="230" width="1" height="1" fill="#ff0000"/><rect x="186" y="231" width="1" height="1" fill="#ff0000"/><rect x="187" y="232" width="1" height="1" fill="#ff0000"/><rect x="190" y="234" width="1" height="1" fill="#ff0000"/><rect x="192" y="236" width="1" height="1" fill="#ff0000"/><rect x="195" y="238" width="1" height="1" fill="#ff0000"/><rect x="196" y="239" width="1" height="1" fill="#ff0000"/><rect x="197" y="240" width="1" height="1" fill="#ff0000"/><rect x="200" y="242" width="1" height="1" fill="#ff0000"/><rect x="201" y="243" width="1" height="2" fill="#ff0000"/><rect x="202" y="245" width="1" height="1" fill="#ff0000"/><rect x="203" y="246" width="1" height="1" fill="#ff0000"/><rect x="204" y="247" width="1" height="2" fill="#ff0000"/><rect x="205" y="249" width="1" height="1" fill="#ff0000"/><rect x="206" y="250" width="1" height="1" fill="#ff0000"/><rect x="207" y="251" width="1" height="2" fill="#ff0000"/><rect x="208" y="253" width="1" height="1" fill="#ff0000"/><rect x="209" y="254" width="1" height="1" fill="#ff0000"/><rect x="210" y="255" width="1" height="1" fill="#ff0000"/><rect x="211" y="257" width="1" height="2" fill="#ff0000"/><rect x="212" y="259" width="1" height="2" fill="#ff0000"/><rect x="213" y="261" width="1" height="2" fill="#ff0000"/><rect x="214" y="263" width="1" height="1" fill="#ff0000"/><rect x="215" y="264" width="1" height="2" fill="#ff0000"/><rect x="216" y="266" width="1" height="2" fill="#ff0000"/><rect x="217" y="268" width="1" height="2" fill="#ff0000"/><rect x="218" y="270" width="1" height="1" fill="#ff0000"/><rect x="219" y="271" width="1" height="2" fill="#ff0000"/><rect x="220" y="273" width="1" height="1" fill="#ff0000"/><rect x="221" y="274" width="1" height="1" fill="#ff0000"/><rect x="222" y="275" width="1" height="2" fill="#ff0000"/><rect x="223" y="277" width="1" height="1" fill="#ff0000"/><rect x="224" y="278" width="1" height="1" fill="#ff0000"/><rect x="225" y="279" width="1" height="2" fill="#ff0000"/><rect x="226" y="281" width="1" height="1" fill="#ff0000"/><rect x="227" y="282" width="1" height="1" fill="#ff0000"/><rect x="228" y="283" width="1" height="1" fill="#ff0000"/><rect x="229" y="284" width="1" height="1" fill="#ff0000"/><rect x="230" y="285" width="1" height="2" fill="#ff0000"/><rect x="231" y="287" width="1" height="1" fill="#ff0000"/><rect x="232" y="288" width="1" height="1" fill="#ff0000"/><rect x="233" y="289" width="1" height="1" fill="#ff0000"/><rect x="234" y="290" width="1" height="1" fill="#ff0000"/><rect x="235" y="291" width="1" height="2" fill="#ff0000"/><rect x="236" y="293" width="1" height="1" fill="#ff0000"/><rect x="237" y="294" width="1" height="1" fill="#ff0000"/><rect x="238" y="295" width="1" height="2" fill="#ff0000"/><rect x="239" y="297" width="1" height="1" fill="#ff0000"/><rect x="240" y="298" width="1" height="1" fill="#ff0000"/><rect x="241" y="299" width="1" height="1" fill="#ff0000"/><rect x="242" y="300" width="1" height="2" fill="#ff0000"/><rect x="243" y="302" width="1" height="1" fill="#ff0000"/><rect x="244" y="303" width="1" height="1" fill="#ff0000"/><rect x="245" y="304" width="1" height="2" fill="#ff0000"/><rect x="246" y="306" width="1" height="1" fill="#ff0000"/><rect x="247" y="307" width="1" height="1" fill="#ff0000"/><rect x="248" y="308" width="1" height="1" fill="#ff0000"/><rect x="250" y="310" width="1" height="1" fill="#ff0000"/><rect x="251" y="311" width="1" height="1" fill="#ff0000"/><rect x="252" y="312" width="1" height="1" fill="#ff0000"/><rect x="253" y="313" width="1" height="1" fill="#ff0000"/><rect x="254" y="314" width="1" height="1" fill="#ff0000"/><rect x="255" y="315" width="1" height="1" fill="#ff0000"/><rect x="256" y="316" width="1" height="1" fill="#ff0000"/><rect x="257" y="317" width="1" height="1" fill="#ff0000"/><rect x="258" y="318" width="1" height="1" fill="#ff0000"/><rect x="259" y="319" width="1" height="1" fill="#ff0000"/><rect x="260" y="320" width="1" height="1" fill="#ff0000"/><rect x="261" y="321" width="1" height="1" fill="#ff0000"/><rect x="262" y="322" width="1" height="1" fill="#ff0000"/><rect x="263" y="323" width="1" height="1" fill="#ff0000"/><rect x="264" y="324" width="1" height="1" fill="#ff0000"/><rect x="265" y="325" width="1" height="1" fill="#ff0000"/><rect x="266" y="326" width="1" height="1" fill="#ff0000"/><rect x="267" y="327" width="1" height="1" fill="#ff0000"/><rect x="268" y="328" width="1" height="1" fill="#ff0000"/><rect x="269" y="329" width="1" height="1" fill="#ff0000"/><rect x="272" y="331" width="1" height="1" fill="#ff0000"/><rect x="273" y="332" width="1" height="1" fill="#ff0000"/><rect x="296" y="342" width="1" height="1" fill="#ff0000"/><rect x="297" y="343" width="1" height="1" fill="#ff0000"/><rect x="298" y="344" width="1" height="1" fill="#ff0000"/><rect x="301" y="346" width="1" height="1" fill="#ff0000"/><rect x="302" y="347" width="1" height="1" fill="#ff0000"/><rect x="303" y="348" width="1" height="1" fill="#ff0000"/><rect x="304" y="349" width="1" height="1" fill="#ff0000"/><rect x="351" y="347" width="1" height="1" fill="#ff0000"/><rect x="356" y="344" width="1" height="1" fill="#ff0000"/><rect x="394" y="329" width="1" height="1" fill="#ff0000"/><rect x="395" y="328" width="1" height="1" fill="#ff0000"/><rect x="396" y="327" width="1" height="1" fill="#ff0000"/><rect x="397" y="326" width="1" height="1" fill="#ff0000"/><rect x="398" y="325" width="1" height="1" fill="#ff0000"/><rect x="401" y="323" width="1" height="1" fill="#ff0000"/><rect x="402" y="322" width="1" height="1" fill="#ff0000"/><rect x="403" y="321" width="1" height="1" fill="#ff0000"/><rect x="404" y="320" width="1" height="1" fill="#ff0000"/><rect x="405" y="319" width="1" height="1" fill="#ff0000"/><rect x="407" y="317" width="1" height="1" fill="#ff0000"/><rect x="408" y="316" width="1" height="1" fill="#ff0000"/><rect x="409" y="315" width="1" height="1" fill="#ff0000"/><rect x="410" y="314" width="1" height="1" fill="#ff0000"/><rect x="411" y="313" width="1" height="1" fill="#ff0000"/><rect x="414" y="311" width="1" height="1" fill="#ff0000"/><rect x="415" y="310" width="1" height="1" fill="#ff0000"/><rect x="416" y="309" width="1" height="1" fill="#ff0000"/><rect x="417" y="308" width="1" height="1" fill="#ff0000"/><rect x="418" y="307" width="1" height="1" fill="#ff0000"/><rect x="427" y="302" width="1" height="1" fill="#ff0000"/><rect x="428" y="301" width="1" height="1" fill="#ff0000"/><rect x="429" y="300" width="1" height="1" fill="#ff0000"/><rect x="430" y="299" width="1" height="1" fill="#ff0000"/><rect x="431" y="298" width="1" height="1" fill="#ff0000"/><rect x="432" y="297" width="1" height="1" fill="#ff0000"/><rect x="433" y="296" width="1" height="1" fill="#ff0000"/><rect x="434" y="295" width="1" height="1" fill="#ff0000"/><rect x="435" y="294" width="1" height="1" fill="#ff0000"/><rect x="436" y="293" width="1" height="1" fill="#ff0000"/><rect x="437" y="292" width="1" height="1" fill="#ff0000"/><rect x="438" y="291" width="1" height="1" fill="#ff0000"/><rect x="439" y="290" width="1" height="1" fill="#ff0000"/><rect x="440" y="289" width="1" height="1" fill="#ff0000"/><rect x="441" y="288" width="1" height="1" fill="#ff0000"/><rect x="442" y="287" width="1" height="1" fill="#ff0000"/><rect x="443" y="286" width="1" height="1" fill="#ff0000"/><rect x="444" y="285" width="1" height="1" fill="#ff0000"/><rect x="445" y="284" width="1" height="1" fill="#ff0000"/><rect x="446" y="283" width="1" height="1" fill="#ff0000"/><rect x="447" y="282" width="1" height="1" fill="#ff0000"/><rect x="448" y="281" width="1" height="1" fill="#ff0000"/><rect x="449" y="280" width="1" height="1" fill="#ff0000"/><rect x="450" y="279" width="1" height="1" fill="#ff0000"/><rect x="451" y="277" width="1" height="2" fill="#ff0000"/><rect x="452" y="276" width="1" height="1" fill="#ff0000"/><rect x="453" y="275" width="1" height="1" fill="#ff0000"/><rect x="454" y="274" width="1" height="1" fill="#ff0000"/><rect x="455" y="273" width="1" height="1" fill="#ff0000"/><rect x="456" y="272" width="1" height="1" fill="#ff0000"/><rect x="457" y="270" width="1" height="1" fill="#ff0000"/><rect x="458" y="269" width="1" height="1" fill="#ff0000"/><rect x="459" y="268" width="1" height="1" fill="#ff0000"/><rect x="460" y="267" width="1" height="1" fill="#ff0000"/><rect x="461" y="266" width="1" height="1" fill="#ff0000"/><rect x="462" y="265" width="1" height="1" fill="#ff0000"/><rect x="463" y="264" width="1" height="1" fill="#ff0000"/><rect x="464" y="263" width="1" height="1" fill="#ff0000"/><rect x="465" y="262" width="1" height="1" fill="#ff0000"/><rect x="466" y="261" width="1" height="1" fill="#ff0000"/><rect x="467" y="260" width="1" height="1" fill="#ff0000"/><rect x="468" y="258" width="1" height="2" fill="#ff0000"/><rect x="470" y="256" width="1" height="1" fill="#ff0000"/><rect x="471" y="255" width="1" height="1" fill="#ff0000"/><rect x="472" y="254" width="1" height="1" fill="#ff0000"/><rect x="473" y="253" width="1" height="1" fill="#ff0000"/><rect x="474" y="252" width="1" height="1" fill="#ff0000"/><rect x="475" y="251" width="1" height="1" fill="#ff0000"/><rect x="476" y="250" width="1" height="1" fill="#ff0000"/><rect x="477" y="249" width="1" height="1" fill="#ff0000"/><rect x="478" y="248" width="1" height="1" fill="#ff0000"/><rect x="479" y="247" width="1" height="1" fill="#ff0000"/><rect x="481" y="244" width="1" height="2" fill="#ff0000"/><rect x="482" y="243" width="1" height="1" fill="#ff0000"/><rect x="483" y="242" width="1" height="1" fill="#ff0000"/><rect x="484" y="241" width="1" height="1" fill="#ff0000"/><rect x="485" y="240" width="1" height="1" fill="#ff0000"/><rect x="486" y="239" width="1" height="1" fill="#ff0000"/><rect x="487" y="238" width="1" height="1" fill="#ff0000"/><rect x="488" y="237" width="1" height="1" fill="#ff0000"/><rect x="489" y="236" width="1" height="1" fill="#ff0000"/><rect x="490" y="235" width="1" height="1" fill="#ff0000"/><rect x="491" y="234" width="1" height="1" fill="#ff0000"/><rect x="492" y="233" width="1" height="1" fill="#ff0000"/><rect x="493" y="232" width="1" height="1" fill="#ff0000"/><rect x="494" y="231" width="1" height="1" fill="#ff0000"/><rect x="495" y="230" width="1" height="1" fill="#ff0000"/><rect x="496" y="229" width="1" height="1" fill="#ff0000"/><rect x="497" y="228" width="1" height="1" fill="#ff0000"/><rect x="498" y="226" width="1" height="2" fill="#ff0000"/><rect x="499" y="225" width="1" height="1" fill="#ff0000"/><rect x="500" y="224" width="1" height="1" fill="#ff0000"/><rect x="501" y="223" width="1" height="1" fill="#ff0000"/><rect x="502" y="221" width="1" height="2" fill="#ff0000"/><rect x="503" y="220" width="1" height="1" fill="#ff0000"/><rect x="504" y="218" width="1" height="2" fill="#ff0000"/><rect x="505" y="217" width="1" height="1" fill="#ff0000"/><rect x="507" y="215" width="1" height="1" fill="#ff0000"/><rect x="512" y="212" width="1" height="1" fill="#ff0000"/><rect x="515" y="210" width="1" height="1" fill="#ff0000"/><rect x="516" y="209" width="1" height="1" fill="#ff0000"/><rect x="517" y="208" width="1" height="1" fill="#ff0000"/><rect x="520" y="206" width="1" height="1" fill="#ff0000"/><rect x="521" y="205" width="1" height="1" fill="#ff0000"/><rect x="522" y="204" width="1" height="1" fill="#ff0000"/><rect x="523" y="203" width="1" height="1" fill="#ff0000"/><rect x="526" y="200" width="1" height="2" fill="#ff0000"/><rect x="527" y="199" width="1" height="1" fill="#ff0000"/><rect x="528" y="198" width="1" height="1" fill="#ff0000"/><rect x="529" y="196" width="1" height="2" fill="#ff0000"/><rect x="530" y="195" width="1" height="1" fill="#ff0000"/><rect x="531" y="194" width="1" height="1" fill="#ff0000"/><rect x="532" y="192" width="1" height="2" fill="#ff0000"/><rect x="533" y="191" width="1" height="1" fill="#ff0000"/><rect x="534" y="189" width="1" height="2" fill="#ff0000"/><rect x="535" y="188" width="1" height="1" fill="#ff0000"/><rect x="536" y="187" width="1" height="1" fill="#ff0000"/><rect x="537" y="186" width="1" height="1" fill="#ff0000"/><rect x="538" y="185" width="1" height="1" fill="#ff0000"/><rect x="539" y="183" width="1" height="2" fill="#ff0000"/><rect x="540" y="182" width="1" height="1" fill="#ff0000"/><rect x="541" y="181" width="1" height="1" fill="#ff0000"/><rect x="542" y="180" width="1" height="1" fill="#ff0000"/><rect x="543" y="179" width="1" height="1" fill="#ff0000"/><rect x="544" y="177" width="1" height="2" fill="#ff0000"/><rect x="545" y="176" width="1" height="1" fill="#ff0000"/><rect x="546" y="175" width="1" height="1" fill="#ff0000"/><rect x="547" y="174" width="1" height="1" fill="#ff0000"/><rect x="548" y="173" width="1" height="1" fill="#ff0000"/><rect x="549" y="171" width="1" height="2" fill="#ff0000"/><rect x="550" y="170" width="1" height="1" fill="#ff0000"/><rect x="551" y="169" width="1" height="1" fill="#ff0000"/><rect x="552" y="168" width="1" height="1" fill="#ff0000"/><rect x="553" y="167" width="1" height="1" fill="#ff0000"/><rect x="556" y="165" width="1" height="1" fill="#ff0000"/><rect x="557" y="164" width="1" height="1" fill="#ff0000"/><rect x="558" y="163" width="1" height="1" fill="#ff0000"/><rect x="559" y="162" width="1" height="1" fill="#ff0000"/><rect x="562" y="160" width="1" height="1" fill="#ff0000"/><rect x="565" y="158" width="1" height="1" fill="#ff0000"/><rect x="627" y="145" width="1" height="1" fill="#ff0000"/><rect x="682" y="125" width="1" height="1" fill="#ff0000"/><rect x="683" y="124" width="1" height="1" fill="#ff0000"/><rect x="684" y="123" width="1" height="1" fill="#ff0000"/><rect x="687" y="121" width="1" height="1" fill="#ff0000"/><rect x="688" y="120" width="1" height="1" fill="#ff0000"/><rect x="689" y="119" width="1" height="1" fill="#ff0000"/><rect x="690" y="118" width="1" height="1" fill="#ff0000"/><rect x="691" y="117" width="1" height="1" fill="#ff0000"/><rect x="694" y="115" width="1" height="1" fill="#ff0000"/><rect x="699" y="112" width="1" height="1" fill="#ff0000"/><rect x="734" y="106" width="1" height="1" fill="#ff0000"/><rect x="737" y="108" width="1" height="1" fill="#ff0000"/><rect x="738" y="109" width="1" height="1" fill="#ff0000"/><rect x="741" y="111" width="1" height="1" fill="#ff0000"/><rect x="742" y="112" width="1" height="1" fill="#ff0000"/><rect x="743" y="113" width="1" height="1" fill="#ff0000"/><rect x="744" y="114" width="1" height="1" fill="#ff0000"/><rect x="745" y="115" width="1" height="1" fill="#ff0000"/><rect x="746" y="116" width="1" height="1" fill="#ff0000"/><rect x="759" y="123" width="1" height="1" fill="#ff0000"/><rect x="762" y="125" width="1" height="1" fill="#ff0000"/><rect x="763" y="126" width="1" height="1" fill="#ff0000"/><rect x="764" y="127" width="1" height="1" fill="#ff0000"/><rect x="765" y="128" width="1" height="1" fill="#ff0000"/><rect x="766" y="129" width="1" height="1" fill="#ff0000"/><rect x="767" y="130" width="1" height="1" fill="#ff0000"/><rect x="768" y="131" width="1" height="1" fill="#ff0000"/><rect x="769" y="132" width="1" height="1" fill="#ff0000"/><rect x="770" y="133" width="1" height="1" fill="#ff0000"/><rect x="771" y="134" width="1" height="1" fill="#ff0000"/><rect x="774" y="136" width="1" height="1" fill="#ff0000"/><rect x="775" y="137" width="1" height="1" fill="#ff0000"/><rect x="776" y="138" width="1" height="1" fill="#ff0000"/><rect x="779" y="140" width="1" height="1" fill="#ff0000"/><rect x="781" y="142" width="1" height="1" fill="#ff0000"/><rect x="784" y="144" width="1" height="1" fill="#ff0000"/><rect x="785" y="145" width="1" height="1" fill="#ff0000"/><rect x="786" y="146" width="1" height="1" fill="#ff0000"/><rect x="787" y="147" width="1" height="1" fill="#ff0000"/><rect x="788" y="148" width="1" height="1" fill="#ff0000"/><rect x="789" y="149" width="1" height="1" fill="#ff0000"/><rect x="790" y="150" width="1" height="1" fill="#ff0000"/><rect x="791" y="151" width="1" height="1" fill="#ff0000"/><rect x="792" y="152" width="1" height="1" fill="#ff0000"/><rect x="793" y="153" width="1" height="1" fill="#ff0000"/><rect x="796" y="155" width="1" height="1" fill="#ff0000"/><rect x="797" y="156" width="1" height="1" fill="#ff0000"/><rect x="798" y="157" width="1" height="1" fill="#ff0000"/><rect x="799" y="158" width="1" height="1" fill="#ff0000"/><rect x="800" y="159" width="1" height="1" fill="#ff0000"/><rect x="801" y="160" width="1" height="1" fill="#ff0000"/><rect x="802" y="161" width="1" height="1" fill="#ff0000"/><rect x="805" y="163" width="1" height="1" fill="#ff0000"/><rect x="808" y="165" width="1" height="1" fill="#ff0000"/><rect x="811" y="167" width="1" height="1" fill="#ff0000"/><rect x="812" y="168" width="1" height="1" fill="#ff0000"/><rect x="813" y="169" width="1" height="1" fill="#ff0000"/><rect x="814" y="170" width="1" height="1" fill="#ff0000"/><rect x="815" y="171" width="1" height="2" fill="#ff0000"/><rect x="816" y="173" width="1" height="1" fill="#ff0000"/><rect x="817" y="174" width="1" height="1" fill="#ff0000"/><rect x="818" y="175" width="1" height="1" fill="#ff0000"/><rect x="819" y="176" width="1" height="2" fill="#ff0000"/><rect x="820" y="178" width="1" height="1" fill="#ff0000"/><rect x="821" y="179" width="1" height="1" fill="#ff0000"/><rect x="822" y="180" width="1" height="2" fill="#ff0000"/><rect x="823" y="182" width="1" height="1" fill="#ff0000"/><rect x="824" y="183" width="1" height="1" fill="#ff0000"/><rect x="825" y="184" width="1" height="2" fill="#ff0000"/><rect x="826" y="186" width="1" height="1" fill="#ff0000"/><rect x="827" y="187" width="1" height="1" fill="#ff0000"/><rect x="828" y="188" width="1" height="2" fill="#ff0000"/><rect x="829" y="190" width="1" height="1" fill="#ff0000"/><rect x="830" y="191" width="1" height="2" fill="#ff0000"/><rect x="831" y="193" width="1" height="1" fill="#ff0000"/><rect x="832" y="194" width="1" height="1" fill="#ff0000"/><rect x="833" y="195" width="1" height="2" fill="#ff0000"/><rect x="834" y="197" width="1" height="1" fill="#ff0000"/><rect x="835" y="198" width="1" height="1" fill="#ff0000"/><rect x="836" y="199" width="1" height="1" fill="#ff0000"/><rect x="837" y="200" width="1" height="1" fill="#ff0000"/><rect x="838" y="201" width="1" height="1" fill="#ff0000"/><rect x="839" y="202" width="1" height="1" fill="#ff0000"/><rect x="840" y="203" width="1" height="1" fill="#ff0000"/><rect x="841" y="204" width="1" height="1" fill="#ff0000"/><rect x="842" y="205" width="1" height="1" fill="#ff0000"/><rect x="843" y="206" width="1" height="1" fill="#ff0000"/><rect x="844" y="207" width="1" height="1" fill="#ff0000"/><rect x="845" y="208" width="1" height="1" fill="#ff0000"/><rect x="846" y="209" width="1" height="1" fill="#ff0000"/><rect x="847" y="210" width="1" height="1" fill="#ff0000"/><rect x="848" y="211" width="1" height="1" fill="#ff0000"/><rect x="849" y="212" width="1" height="1" fill="#ff0000"/><rect x="859" y="217" width="1" height="1" fill="#ff0000"/><rect x="860" y="218" width="1" height="1" fill="#ff0000"/><rect x="863" y="220" width="1" height="1" fill="#ff0000"/><rect x="864" y="221" width="1" height="1" fill="#ff0000"/><rect x="866" y="223" width="1" height="1" fill="#ff0000"/><rect x="867" y="224" width="1" height="1" fill="#ff0000"/><rect x="868" y="225" width="1" height="1" fill="#ff0000"/><rect x="869" y="226" width="1" height="1" fill="#ff0000"/><rect x="870" y="227" width="1" height="1" fill="#ff0000"/><rect x="871" y="228" width="1" height="1" fill="#ff0000"/><rect x="872" y="229" width="1" height="2" fill="#ff0000"/><rect x="873" y="231" width="1" height="1" fill="#ff0000"/><rect x="874" y="232" width="1" height="1" fill="#ff0000"/><rect x="875" y="233" width="1" height="1" fill="#ff0000"/><rect x="876" y="234" width="1" height="1" fill="#ff0000"/><rect x="877" y="235" width="1" height="1" fill="#ff0000"/><rect x="880" y="237" width="1" height="1" fill="#ff0000"/><rect x="881" y="238" width="1" height="1" fill="#ff0000"/><rect x="882" y="239" width="1" height="1" fill="#ff0000"/><rect x="883" y="240" width="1" height="1" fill="#ff0000"/><rect x="884" y="241" width="1" height="1" fill="#ff0000"/><rect x="885" y="242" width="1" height="1" fill="#ff0000"/><rect x="886" y="243" width="1" height="1" fill="#ff0000"/><rect x="887" y="244" width="1" height="1" fill="#ff0000"/><rect x="888" y="245" width="1" height="1" fill="#ff0000"/><rect x="891" y="247" width="1" height="1" fill="#ff0000"/><rect x="892" y="248" width="1" height="1" fill="#ff0000"/><rect x="894" y="250" width="1" height="1" fill="#ff0000"/><rect x="897" y="252" width="1" height="1" fill="#ff0000"/><rect x="2" y="82" width="1163" height="2" fill="#ff0000"/><rect x="2" y="151" width="1163" height="2" fill="#00ff00"/><rect x="2" y="219" width="1163" height="2" fill="#0000ff"/><rect x="2" y="281" width="1163" height="2" fill="#0000ff"/><rect x="2" y="343" width="1163" height="2" fill="#0000ff"/><rect x="2" y="180" width="1" height="51" fill="#ff0000"/><rect x="2" y="184" width="3" height="23" fill="#ff0000"/><rect x="2" y="185" width="2" height="21" fill="#ff4500"/><rect x="10" y="175" width="1" height="48" fill="#32cd32"/><rect x="8" y="184" width="5" height="38" fill="#32cd32"/><rect x="18" y="180" width="1" height="43" fill="#ff0000"/><rect x="16" y="188" width="5" height="34" fill="#ff0000"/><rect x="17" y="189" width="3" height="32" fill="#ff4500"/><rect x="26" y="146" width="1" height="67" fill="#ff0000"/><rect x="24" y="155" width="5" height="33" fill="#ff0000"/><rect x="25" y="156" width="3" height="31" fill="#ff4500"/><rect x="34" y="143" width="1" height="5" fill="#ff0000"/><rect x="32" y="145" width="5" height="1" fill="#ff0000"/><rect x="42" y="78" width="1" height="71" fill="#ff0000"/><rect x="40" y="126" width="5" height="20" fill="#ff0000"/><rect x="41" y="127" width="3" height="18" fill="#ff4500"/><rect x="50" y="102" width="1" height="56" fill="#ff0000"/><rect x="48" y="118" width="5" height="9" fill="#ff0000"/><rect x="49" y="119" width="3" height="7" fill="#ff4500"/><rect x="58" y="114" width="1" height="67" fill="#32cd32"/><rect x="56" y="118" width="5" height="17" fill="#32cd32"/><rect x="66" y="129" width="1" height="85" fill="#32cd32"/><rect x="64" y="134" width="5" height="65" fill="#32cd32"/><rect x="74" y="163" width="1" height="48" fill="#32cd32"/><rect x="72" y="198" width="5" height="2" fill="#32cd32"/><rect x="82" y="201" width="1" height="6" fill="#32cd32"/><rect x="80" y="204" width="5" height="2" fill="#32cd32"/><rect x="90" y="193" width="1" height="33" fill="#32cd32"/><rect x="88" y="205" width="5" height="12" fill="#32cd32"/><rect x="98" y="175" width="1" height="60" fill="#ff0000"/><rect x="96" y="191" width="5" height="27" fill="#ff0000"/><rect x="97" y="192" width="3" height="25" fill="#ff4500"/><rect x="106" y="141" width="1" height="55" fill="#ff0000"/><rect x="104" y="151" width="5" height="40" fill="#ff0000"/><rect x="105" y="152" width="3" height="38" fill="#ff4500"/><rect x="114" y="150" width="1" height="66" fill="#32cd32"/><rect x="112" y="151" width="5" height="38" fill="#32cd32"/><rect x="122" y="159" width="1" height="58" fill="#32cd32"/><rect x="120" y="186" width="5" height="27" fill="#32cd32"/><rect x="130" y="215" width="1" height="6" fill="#ff0000"/><rect x="128" y="217" width="5" height="4" fill="#ff0000"/><rect x="129" y="218" width="3" height="2" fill="#ff4500"/><rect x="138" y="202" width="1" height="52" fill="#32cd32"/><rect x="136" y="216" width="5" height="21" fill="#32cd32"/><rect x="146" y="215" width="1" height="45" fill="#32cd32"/><rect x="144" y="236" width="5" height="4" fill="#32cd32"/><rect x="154" y="206" width="1" height="35" fill="#ff0000"/><rect x="152" y="238" width="5" height="2" fill="#ff0000"/><rect x="162" y="231" width="1" height="32" fill="#32cd32"/><rect x="160" y="238" width="5" height="21" fill="#32cd32"/><rect x="170" y="250" width="1" height="59" fill="#32cd32"/><rect x="168" y="258" width="5" height="47" fill="#32cd32"/><rect x="178" y="290" width="1" height="8" fill="#ff0000"/><rect x="176" y="291" width="5" height="5" fill="#ff0000"/><rect x="177" y="292" width="3" height="3" fill="#ff4500"/><rect x="186" y="287" width="1" height="25" fill="#32cd32"/><rect x="184" y="291" width="5" height="2" fill="#32cd32"/><rect x="194" y="283" width="1" height="35" fill="#32cd32"/><rect x="192" y="293" width="5" height="2" fill="#32cd32"/><rect x="202" y="294" width="1" height="26" fill="#32cd32"/><rect x="200" y="294" width="5" height="22" fill="#32cd32"/><rect x="210" y="314" width="1" height="45" fill="#32cd32"/><rect x="208" y="314" width="5" height="34" fill="#32cd32"/><rect x="218" y="336" width="1" height="32" fill="#ff0000"/><rect x="216" y="343" width="5" height="5" fill="#ff0000"/><rect x="217" y="344" width="3" height="3" fill="#ff4500"/><rect x="226" y="348" width="1" height="6" fill="#ff0000"/><rect x="224" y="348" width="5" height="5" fill="#ff0000"/><rect x="225" y="349" width="3" height="3" fill="#ff4500"/><rect x="234" y="330" width="1" height="31" fill="#32cd32"/><rect x="232" y="348" width="5" height="2" fill="#32cd32"/><rect x="242" y="348" width="1" height="34" fill="#32cd32"/><rect x="240" y="349" width="5" height="10" fill="#32cd32"/><rect x="250" y="352" width="1" height="32" fill="#32cd32"/><rect x="248" y="358" width="5" height="16" fill="#32cd32"/><rect x="258" y="343" width="1" height="51" fill="#ff0000"/><rect x="256" y="350" width="5" height="24" fill="#ff0000"/><rect x="257" y="351" width="3" height="22" fill="#ff4500"/><rect x="266" y="340" width="1" height="37" fill="#32cd32"/><rect x="264" y="350" width="5" height="3" fill="#32cd32"/><rect x="274" y="345" width="1" height="8" fill="#ff0000"/><rect x="272" y="349" width="5" height="3" fill="#ff0000"/><rect x="273" y="350" width="3" height="1" fill="#ff4500"/><rect x="282" y="335" width="1" height="33" fill="#ff0000"/><rect x="280" y="345" width="5" height="5" fill="#ff0000"/><rect x="281" y="346" width="3" height="3" fill="#ff4500"/><rect x="290" y="337" width="1" height="24" fill="#ff0000"/><rect x="288" y="339" width="5" height="8" fill="#ff0000"/><rect x="289" y="340" width="3" height="6" fill="#ff4500"/><rect x="298" y="319" width="1" height="68" fill="#32cd32"/><rect x="296" y="339" width="5" height="12" fill="#32cd32"/><rect x="306" y="344" width="1" height="28" fill="#32cd32"/><rect x="304" y="350" width="5" height="13" fill="#32cd32"/><rect x="314" y="331" width="1" height="42" fill="#ff0000"/><rect x="312" y="348" width="5" height="15" fill="#ff0000"/><rect x="313" y="349" width="3" height="13" fill="#ff4500"/><rect x="322" y="342" width="1" height="4" fill="#ff0000"/><rect x="320" y="343" width="5" height="1" fill="#ff0000"/><rect x="330" y="333" width="1" height="27" fill="#32cd32"/><rect x="328" y="344" width="5" height="5" fill="#32cd32"/><rect x="338" y="322" width="1" height="28" fill="#ff0000"/><rect x="336" y="331" width="5" height="18" fill="#ff0000"/><rect x="337" y="332" width="3" height="16" fill="#ff4500"/><rect x="346" y="305" width="1" height="41" fill="#32cd32"/><rect x="344" y="330" width="5" height="16" fill="#32cd32"/><rect x="354" y="298" width="1" height="48" fill="#ff0000"/><rect x="352" y="307" width="5" height="39" fill="#ff0000"/><rect x="353" y="308" width="3" height="37" fill="#ff4500"/><rect x="362" y="293" width="1" height="24" fill="#ff0000"/><rect x="360" y="304" width="5" height="4" fill="#ff0000"/><rect x="361" y="305" width="3" height="2" fill="#ff4500"/><rect x="370" y="306" width="1" height="6" fill="#32cd32"/><rect x="368" y="307" width="5" height="2" fill="#32cd32"/><rect x="378" y="301" width="1" height="16" fill="#32cd32"/><rect x="376" y="308" width="5" height="5" fill="#32cd32"/><rect x="386" y="290" width="1" height="31" fill="#32cd32"/><rect x="384" y="312" width="5" height="5" fill="#32cd32"/><rect x="394" y="281" width="1" height="61" fill="#ff0000"/><rect x="392" y="289" width="5" height="28" fill="#ff0000"/><rect x="393" y="290" width="3" height="26" fill="#ff4500"/><rect x="402" y="233" width="1" height="60" fill="#ff0000"/><rect x="400" y="237" width="5" height="52" fill="#ff0000"/><rect x="401" y="238" width="3" height="50" fill="#ff4500"/><rect x="410" y="228" width="1" height="32" fill="#32cd32"/><rect x="408" y="237" width="5" height="19" fill="#32cd32"/><rect x="418" y="257" width="1" height="5" fill="#ff0000"/><rect x="416" y="259" width="5" height="2" fill="#ff0000"/><rect x="426" y="254" width="1" height="29" fill="#32cd32"/><rect x="424" y="259" width="5" height="17" fill="#32cd32"/><rect x="434" y="247" width="1" height="41" fill="#ff0000"/><rect x="432" y="248" width="5" height="28" fill="#ff0000"/><rect x="433" y="249" width="3" height="26" fill="#ff4500"/><rect x="442" y="219" width="1" height="44" fill="#ff0000"/><rect x="440" y="225" width="5" height="25" fill="#ff0000"/><rect x="441" y="226" width="3" height="23" fill="#ff4500"/><rect x="450" y="207" width="1" height="29" fill="#32cd32"/><rect x="448" y="226" width="5" height="4" fill="#32cd32"/><rect x="458" y="199" width="1" height="41" fill="#ff0000"/><rect x="456" y="199" width="5" height="31" fill="#ff0000"/><rect x="457" y="200" width="3" height="29" fill="#ff4500"/><rect x="466" y="202" width="1" height="9" fill="#ff0000"/><rect x="464" y="203" width="5" height="8" fill="#ff0000"/><rect x="465" y="204" width="3" height="6" fill="#ff4500"/><rect x="474" y="176" width="1" height="41" fill="#ff0000"/><rect x="472" y="178" width="5" height="26" fill="#ff0000"/><rect x="473" y="179" width="3" height="24" fill="#ff4500"/><rect x="482" y="156" width="1" height="45" fill="#32cd32"/><rect x="480" y="178" width="5" height="14" fill="#32cd32"/><rect x="490" y="174" width="1" height="31" fill="#32cd32"/><rect x="488" y="192" width="5" height="8" fill="#32cd32"/><rect x="498" y="191" width="1" height="20" fill="#ff0000"/><rect x="496" y="198" width="5" height="2" fill="#ff0000"/><rect x="506" y="127" width="1" height="73" fill="#ff0000"/><rect x="504" y="135" width="5" height="64" fill="#ff0000"/><rect x="505" y="136" width="3" height="62" fill="#ff4500"/><rect x="514" y="148" width="1" height="19" fill="#32cd32"/><rect x="512" y="149" width="5" height="18" fill="#32cd32"/><rect x="522" y="131" width="1" height="38" fill="#ff0000"/><rect x="520" y="159" width="5" height="8" fill="#ff0000"/><rect x="521" y="160" width="3" height="6" fill="#ff4500"/><rect x="530" y="108" width="1" height="55" fill="#ff0000"/><rect x="528" y="140" width="5" height="20" fill="#ff0000"/><rect x="529" y="141" width="3" height="18" fill="#ff4500"/><rect x="538" y="112" width="1" height="61" fill="#ff0000"/><rect x="536" y="121" width="5" height="21" fill="#ff0000"/><rect x="537" y="122" width="3" height="19" fill="#ff4500"/><rect x="546" y="108" width="1" height="31" fill="#ff0000"/><rect x="544" y="118" width="5" height="5" fill="#ff0000"/><rect x="545" y="119" width="3" height="3" fill="#ff4500"/><rect x="554" y="103" width="1" height="54" fill="#ff0000"/><rect x="552" y="107" width="5" height="12" fill="#ff0000"/><rect x="553" y="108" width="3" height="10" fill="#ff4500"/><rect x="562" y="108" width="1" height="11" fill="#32cd32"/><rect x="560" y="113" width="5" height="6" fill="#32cd32"/><rect x="570" y="105" width="1" height="46" fill="#32cd32"/><rect x="568" y="118" width="5" height="30" fill="#32cd32"/><rect x="578" y="144" width="1" height="70" fill="#32cd32"/><rect x="576" y="147" width="5" height="61" fill="#32cd32"/><rect x="586" y="197" width="1" height="31" fill="#ff0000"/><rect x="584" y="204" width="5" height="4" fill="#ff0000"/><rect x="585" y="205" width="3" height="2" fill="#ff4500"/><rect x="594" y="168" width="1" height="38" fill="#ff0000"/><rect x="592" y="176" width="5" height="29" fill="#ff0000"/><rect x="593" y="177" width="3" height="27" fill="#ff4500"/><rect x="602" y="159" width="1" height="32" fill="#ff0000"/><rect x="600" y="164" width="5" height="13" fill="#ff0000"/><rect x="601" y="165" width="3" height="11" fill="#ff4500"/><rect x="610" y="163" width="1" height="8" fill="#32cd32"/><rect x="608" y="163" width="5" height="6" fill="#32cd32"/><rect x="618" y="116" width="1" height="61" fill="#ff0000"/><rect x="616" y="123" width="5" height="45" fill="#ff0000"/><rect x="617" y="124" width="3" height="43" fill="#ff4500"/><rect x="626" y="92" width="1" height="37" fill="#ff0000"/><rect x="624" y="92" width="5" height="32" fill="#ff0000"/><rect x="625" y="93" width="3" height="30" fill="#ff4500"/><rect x="634" y="56" width="1" height="57" fill="#32cd32"/><rect x="632" y="93" width="5" height="16" fill="#32cd32"/><rect x="642" y="97" width="1" height="50" fill="#32cd32"/><rect x="640" y="108" width="5" height="30" fill="#32cd32"/><rect x="650" y="83" width="1" height="57" fill="#ff0000"/><rect x="648" y="86" width="5" height="53" fill="#ff0000"/><rect x="649" y="87" width="3" height="51" fill="#ff4500"/><rect x="658" y="74" width="1" height="9" fill="#ff0000"/><rect x="656" y="76" width="5" height="7" fill="#ff0000"/><rect x="657" y="77" width="3" height="5" fill="#ff4500"/><rect x="666" y="42" width="1" height="40" fill="#ff0000"/><rect x="664" y="56" width="5" height="21" fill="#ff0000"/><rect x="665" y="57" width="3" height="19" fill="#ff4500"/><rect x="674" y="52" width="1" height="18" fill="#32cd32"/><rect x="672" y="57" width="5" height="7" fill="#32cd32"/><rect x="682" y="63" width="1" height="49" fill="#32cd32"/><rect x="680" y="64" width="5" height="37" fill="#32cd32"/><rect x="690" y="100" width="1" height="29" fill="#32cd32"/><rect x="688" y="100" width="5" height="14" fill="#32cd32"/><rect x="698" y="109" width="1" height="27" fill="#32cd32"/><rect x="696" y="113" width="5" height="9" fill="#32cd32"/><rect x="706" y="118" width="1" height="4" fill="#ff0000"/><rect x="704" y="119" width="5" height="2" fill="#ff0000"/><rect x="714" y="103" width="1" height="36" fill="#32cd32"/><rect x="712" y="119" width="5" height="15" fill="#32cd32"/><rect x="722" y="111" width="1" height="27" fill="#ff0000"/><rect x="720" y="119" width="5" height="15" fill="#ff0000"/><rect x="721" y="120" width="3" height="13" fill="#ff4500"/><rect x="730" y="109" width="1" height="28" fill="#32cd32"/><rect x="728" y="119" width="5" height="18" fill="#32cd32"/><rect x="738" y="121" width="1" height="41" fill="#32cd32"/><rect x="736" y="136" width="5" height="21" fill="#32cd32"/><rect x="746" y="153" width="1" height="68" fill="#32cd32"/><rect x="744" y="156" width="5" height="55" fill="#32cd32"/><rect x="754" y="200" width="1" height="17" fill="#ff0000"/><rect x="752" y="200" width="5" height="16" fill="#ff0000"/><rect x="753" y="201" width="3" height="14" fill="#ff4500"/><rect x="762" y="138" width="1" height="71" fill="#ff0000"/><rect x="760" y="152" width="5" height="50" fill="#ff0000"/><rect x="761" y="153" width="3" height="48" fill="#ff4500"/><rect x="770" y="145" width="1" height="52" fill="#32cd32"/><rect x="768" y="152" width="5" height="25" fill="#32cd32"/><rect x="778" y="145" width="1" height="39" fill="#ff0000"/><rect x="776" y="148" width="5" height="29" fill="#ff0000"/><rect x="777" y="149" width="3" height="27" fill="#ff4500"/><rect x="786" y="120" width="1" height="57" fill="#32cd32"/><rect x="784" y="148" width="5" height="16" fill="#32cd32"/><rect x="794" y="163" width="1" height="52" fill="#32cd32"/><rect x="792" y="164" width="5" height="50" fill="#32cd32"/><rect x="802" y="202" width="1" height="13" fill="#ff0000"/><rect x="800" y="206" width="5" height="4" fill="#ff0000"/><rect x="801" y="207" width="3" height="2" fill="#ff4500"/><rect x="810" y="180" width="1" height="47" fill="#ff0000"/><rect x="808" y="197" width="5" height="11" fill="#ff0000"/><rect x="809" y="198" width="3" height="9" fill="#ff4500"/><rect x="818" y="194" width="1" height="55" fill="#32cd32"/><rect x="816" y="196" width="5" height="48" fill="#32cd32"/><rect x="826" y="241" width="1" height="45" fill="#32cd32"/><rect x="824" y="242" width="5" height="40" fill="#32cd32"/><rect x="834" y="272" width="1" height="36" fill="#ff0000"/><rect x="832" y="279" width="5" height="3" fill="#ff0000"/><rect x="833" y="280" width="3" height="1" fill="#ff4500"/><rect x="842" y="246" width="1" height="53" fill="#ff0000"/><rect x="840" y="251" width="5" height="28" fill="#ff0000"/><rect x="841" y="252" width="3" height="26" fill="#ff4500"/><rect x="850" y="253" width="1" height="10" fill="#32cd32"/><rect x="848" y="260" width="5" height="2" fill="#32cd32"/><rect x="858" y="256" width="1" height="28" fill="#32cd32"/><rect x="856" y="261" width="5" height="14" fill="#32cd32"/><rect x="866" y="250" width="1" height="41" fill="#32cd32"/><rect x="864" y="275" width="5" height="10" fill="#32cd32"/><rect x="874" y="270" width="1" height="39" fill="#ff0000"/><rect x="872" y="277" width="5" height="8" fill="#ff0000"/><rect x="873" y="278" width="3" height="6" fill="#ff4500"/><rect x="882" y="275" width="1" height="33" fill="#32cd32"/><rect x="880" y="278" width="5" height="6" fill="#32cd32"/><rect x="890" y="245" width="1" height="40" fill="#ff0000"/><rect x="888" y="245" width="5" height="39" fill="#ff0000"/><rect x="889" y="246" width="3" height="37" fill="#ff4500"/><rect x="898" y="241" width="1" height="11" fill="#32cd32"/><rect x="896" y="243" width="5" height="9" fill="#32cd32"/><rect x="906" y="178" width="1" height="77" fill="#ff0000"/><rect x="904" y="218" width="5" height="33" fill="#ff0000"/><rect x="905" y="219" width="3" height="31" fill="#ff4500"/><rect x="914" y="205" width="1" height="17" fill="#ff0000"/><rect x="912" y="210" width="5" height="8" fill="#ff0000"/><rect x="913" y="211" width="3" height="6" fill="#ff4500"/><rect x="1165" y="36" width="2" height="1" fill="#000"/><rect x="1165" y="69" width="2" height="1" fill="#000"/><rect x="1165" y="102" width="2" height="1" fill="#000"/><rect x="1165" y="135" width="2" height="1" fill="#000"/><rect x="1165" y="168" width="2" height="1" fill="#000"/><rect x="1165" y="201" width="2" height="1" fill="#000"/><rect x="1165" y="234" width="2" height="1" fill="#000"/><rect x="1165" y="267" width="2" height="1" fill="#000"/><rect x="1165" y="300" width="2" height="1" fill="#000"/><rect x="1165" y="333" width="2" height="1" fill="#000"/><rect x="1165" y="366" width="2" height="1" fill="#000"/><rect x="1165" y="399" width="2" height="1" fill="#000"/><rect x="2" y="432" width="2" height="8" fill="#c0c0c0"/><rect x="9" y="434" width="3" height="6" fill="#c0c0c0"/><rect x="17" y="433" width="3" height="7" fill="#c0c0c0"/><rect x="25" y="430" width="3" height="10" fill="#c0c0c0"/><rect x="33" y="428" width="3" height="12" fill="#c0c0c0"/><rect x="41" y="425" width="3" height="15" fill="#c0c0c0"/><rect x="49" y="423" width="3" height="17" fill="#c0c0c0"/><rect x="57" y="422" width="3" height="18" fill="#c0c0c0"/><rect x="65" y="425" width="3" height="15" fill="#c0c0c0"/><rect x="73" y="428" width="3" height="12" fill="#c0c0c0"/><rect x="81" y="430" width="3" height="10" fill="#c0c0c0"/><rect x="89" y="433" width="3" height="7" fill="#c0c0c0"/><rect x="97" y="434" width="3" height="6" fill="#c0c0c0"/><rect x="105" y="433" width="3" height="7" fill="#c0c0c0"/><rect x="113" y="433" width="3" height="7" fill="#c0c0c0"/><rect x="121" y="436" width="3" height="4" fill="#c0c0c0"/><rect x="129" y="438" width="3" height="2" fill="#c0c0c0"/><rect x="137" y="440" width="3" height="1" fill="#c0c0c0"/><rect x="145" y="440" width="3" height="4" fill="#c0c0c0"/><rect x="153" y="440" width="3" height="5" fill="#c0c0c0"/><rect x="161" y="440" width="3" height="8" fill="#c0c0c0"/><rect x="169" y="440" width="3" height="12" fill="#c0c0c0"/><rect x="177" y="440" width="3" height="14" fill="#c0c0c0"/><rect x="185" y="440" width="3" height="17" fill="#c0c0c0"/><rect x="193" y="440" width="3" height="18" fill="#c0c0c0"/><rect x="201" y="440" width="3" height="20" fill="#c0c0c0"/><rect x="209" y="440" width="3" height="23" fill="#c0c0c0"/><rect x="217" y="440" width="3" height="26" fill="#c0c0c0"/><rect x="225" y="440" width="3" height="27" fill="#c0c0c0"/><rect x="233" y="440" width="3" height="28" fill="#c0c0c0"/><rect x="241" y="440" width="3" height="29" fill="#c0c0c0"/><rect x="249" y="440" width="3" height="30" fill="#c0c0c0"/><rect x="257" y="440" width="3" height="30" fill="#c0c0c0"/><rect x="265" y="440" width="3" height="29" fill="#c0c0c0"/><rect x="273" y="440" width="3" height="27" fill="#c0c0c0"/><rect x="281" y="440" width="3" height="27" fill="#c0c0c0"/><rect x="289" y="440" width="3" height="25" fill="#c0c0c0"/><rect x="297" y="440" width="3" height="24" fill="#c0c0c0"/><rect x="305" y="440" width="3" height="24" fill="#c0c0c0"/><rect x="313" y="440" width="3" height="22" fill="#c0c0c0"/><rect x="321" y="440" width="3" height="21" fill="#c0c0c0"/><rect x="329" y="440" width="3" height="20" fill="#c0c0c0"/><rect x="337" y="440" width="3" height="18" fill="#c0c0c0"/><rect x="345" y="440" width="3" height="17" fill="#c0c0c0"/><rect x="353" y="440" width="3" height="13" fill="#c0c0c0"/><rect x="361" y="440" width="3" height="11" fill="#c0c0c0"/><rect x="369" y="440" width="3" height="9" fill="#c0c0c0"/><rect x="377" y="440" width="3" height="7" fill="#c0c0c0"/><rect x="385" y="440" width="3" height="6" fill="#c0c0c0"/><rect x="393" y="440" width="3" height="4" fill="#c0c0c0"/><rect x="401" y="438" width="3" height="2" fill="#c0c0c0"/><rect x="409" y="435" width="3" height="5" fill="#c0c0c0"/><rect x="417" y="433" width="3" height="7" fill="#c0c0c0"/><rect x="425" y="433" width="3" height="7" fill="#c0c0c0"/><rect x="433" y="431" width="3" height="9" fill="#c0c0c0"/><rect x="441" y="428" width="3" height="12" fill="#c0c0c0"/><rect x="449" y="427" width="3" height="13" fill="#c0c0c0"/><rect x="457" y="424" width="3" height="16" fill="#c0c0c0"/><rect x="465" y="422" width="3" height="18" fill="#c0c0c0"/><rect x="473" y="419" width="3" height="21" fill="#c0c0c0"/><rect x="481" y="418" width="3" height="22" fill="#c0c0c0"/><rect x="489" y="418" width="3" height="22" fill="#c0c0c0"/><rect x="497" y="418" width="3" height="22" fill="#c0c0c0"/><rect x="505" y="415" width="3" height="25" fill="#c0c0c0"/><rect x="513" y="414" width="3" height="26" fill="#c0c0c0"/><rect x="521" y="414" width="3" height="26" fill="#c0c0c0"/><rect x="529" y="413" width="3" height="27" fill="#c0c0c0"/><rect x="537" y="411" width="3" height="29" fill="#c0c0c0"/><rect x="545" y="410" width="3" height="30" fill="#c0c0c0"/><rect x="553" y="409" width="3" height="31" fill="#c0c0c0"/><rect x="561" y="409" width="3" height="31" fill="#c0c0c0"/><rect x="569" y="411" width="3" height="29" fill="#c0c0c0"/><rect x="577" y="416" width="3" height="24" fill="#c0c0c0"/><rect x="585" y="420" width="3" height="20" fill="#c0c0c0"/><rect x="593" y="422" width="3" height="18" fill="#c0c0c0"/><rect x="601" y="423" width="3" height="17" fill="#c0c0c0"/><rect x="609" y="424" width="3" height="16" fill="#c0c0c0"/><rect x="617" y="423" width="3" height="17" fill="#c0c0c0"/><rect x="625" y="420" width="3" height="20" fill="#c0c0c0"/><rect x="633" y="420" width="3" height="20" fill="#c0c0c0"/><rect x="641" y="422" width="3" height="18" fill="#c0c0c0"/><rect x="649" y="419" width="3" height="21" fill="#c0c0c0"/><rect x="657" y="417" width="3" height="23" fill="#c0c0c0"/><rect x="665" y="415" width="3" height="25" fill="#c0c0c0"/><rect x="673" y="414" width="3" height="26" fill="#c0c0c0"/><rect x="681" y="415" width="3" height="25" fill="#c0c0c0"/><rect x="689" y="418" width="3" height="22" fill="#c0c0c0"/><rect x="697" y="420" width="3" height="20" fill="#c0c0c0"/><rect x="705" y="422" width="3" height="18" fill="#c0c0c0"/><rect x="713" y="425" width="3" height="15" fill="#c0c0c0"/><rect x="721" y="426" width="3" height="14" fill="#c0c0c0"/><rect x="729" y="428" width="3" height="12" fill="#c0c0c0"/><rect x="737" y="431" width="3" height="9" fill="#c0c0c0"/><rect x="745" y="437" width="3" height="3" fill="#c0c0c0"/><rect x="753" y="440" width="3" height="2" fill="#c0c0c0"/><rect x="761" y="440" width="3" height="2" fill="#c0c0c0"/><rect x="769" y="440" width="3" height="3" fill="#c0c0c0"/><rect x="777" y="440" width="3" height="3" fill="#c0c0c0"/><rect x="785" y="440" width="3" height="4" fill="#c0c0c0"/><rect x="793" y="440" width="3" height="7" fill="#c0c0c0"/><rect x="801" y="440" width="3" height="9" fill="#c0c0c0"/><rect x="809" y="440" width="3" height="10" fill="#c0c0c0"/><rect x="817" y="440" width="3" height="13" fill="#c0c0c0"/><rect x="825" y="440" width="3" height="18" fill="#c0c0c0"/><rect x="833" y="440" width="3" height="21" fill="#c0c0c0"/><rect x="841" y="440" width="3" height="22" fill="#c0c0c0"/><rect x="849" y="440" width="3" height="22" fill="#c0c0c0"/><rect x="857" y="440" width="3" height="24" fill="#c0c0c0"/><rect x="865" y="440" width="3" height="25" fill="#c0c0c0"/><rect x="873" y="440" width="3" height="25" fill="#c0c0c0"/><rect x="881" y="440" width="3" height="26" fill="#c0c0c0"/><rect x="889" y="440" width="3" height="23" fill="#c0c0c0"/><rect x="897" y="440" width="3" height="22" fill="#c0c0c0"/><rect x="905" y="440" width="3" height="18" fill="#c0c0c0"/><rect x="913" y="440" width="3" height="15" fill="#c0c0c0"/><rect x="555" y="412" width="38" height="1" fill="#ff0000"/><rect x="547" y="413" width="8" height="1" fill="#ff0000"/><rect x="593" y="413" width="6" height="1" fill="#ff0000"/><rect x="539" y="414" width="8" height="1" fill="#ff0000"/><rect x="599" y="414" width="5" height="1" fill="#ff0000"/><rect x="534" y="415" width="5" height="1" fill="#ff0000"/><rect x="604" y="415" width="6" height="1" fill="#ff0000"/><rect x="528" y="416" width="6" height="1" fill="#ff0000"/><rect x="610" y="416" width="6" height="1" fill="#ff0000"/><rect x="522" y="417" width="6" height="1" fill="#ff0000"/><rect x="616" y="417" width="5" height="1" fill="#ff0000"/><rect x="517" y="418" width="5" height="1" fill="#ff0000"/><rect x="621" y="418" width="6" height="1" fill="#ff0000"/><rect x="675" y="418" width="48" height="1" fill="#ff0000"/><rect x="512" y="419" width="5" height="1" fill="#ff0000"/><rect x="627" y="419" width="5" height="1" fill="#ff0000"/><rect x="668" y="419" width="7" height="1" fill="#ff0000"/><rect x="723" y="419" width="7" height="1" fill="#ff0000"/><rect x="507" y="420" width="5" height="1" fill="#ff0000"/><rect x="632" y="420" width="6" height="1" fill="#ff0000"/><rect x="661" y="420" width="7" height="1" fill="#ff0000"/><rect x="730" y="420" width="4" height="1" fill="#ff0000"/><rect x="502" y="421" width="5" height="1" fill="#ff0000"/><rect x="638" y="421" width="23" height="1" fill="#ff0000"/><rect x="734" y="421" width="2" height="1" fill="#ff0000"/><rect x="497" y="422" width="5" height="1" fill="#ff0000"/><rect x="736" y="422" width="3" height="1" fill="#ff0000"/><rect x="492" y="423" width="5" height="1" fill="#ff0000"/><rect x="739" y="423" width="3" height="1" fill="#ff0000"/><rect x="487" y="424" width="5" height="1" fill="#ff0000"/><rect x="742" y="424" width="2" height="1" fill="#ff0000"/><rect x="482" y="425" width="5" height="1" fill="#ff0000"/><rect x="744" y="425" width="3" height="1" fill="#ff0000"/><rect x="79" y="426" width="16" height="1" fill="#ff0000"/><rect x="478" y="426" width="4" height="1" fill="#ff0000"/><rect x="747" y="426" width="3" height="1" fill="#ff0000"/><rect x="65" y="427" width="14" height="1" fill="#ff0000"/><rect x="95" y="427" width="10" height="1" fill="#ff0000"/><rect x="474" y="427" width="4" height="1" fill="#ff0000"/><rect x="750" y="427" width="3" height="1" fill="#ff0000"/><rect x="57" y="428" width="8" height="1" fill="#ff0000"/><rect x="105" y="428" width="8" height="1" fill="#ff0000"/><rect x="470" y="428" width="4" height="1" fill="#ff0000"/><rect x="752" y="428" width="4" height="1" fill="#ff0000"/><rect x="49" y="429" width="8" height="1" fill="#ff0000"/><rect x="113" y="429" width="5" height="1" fill="#ff0000"/><rect x="467" y="429" width="3" height="1" fill="#ff0000"/><rect x="756" y="429" width="3" height="1" fill="#ff0000"/><rect x="44" y="430" width="5" height="1" fill="#ff0000"/><rect x="118" y="430" width="5" height="1" fill="#ff0000"/><rect x="463" y="430" width="4" height="1" fill="#ff0000"/><rect x="759" y="430" width="3" height="1" fill="#ff0000"/><rect x="39" y="431" width="5" height="1" fill="#ff0000"/><rect x="123" y="431" width="6" height="1" fill="#ff0000"/><rect x="460" y="431" width="3" height="1" fill="#ff0000"/><rect x="762" y="431" width="4" height="1" fill="#ff0000"/><rect x="33" y="432" width="6" height="1" fill="#ff0000"/><rect x="128" y="432" width="4" height="1" fill="#ff0000"/><rect x="458" y="432" width="2" height="1" fill="#ff0000"/><rect x="766" y="432" width="3" height="1" fill="#ff0000"/><rect x="28" y="433" width="5" height="1" fill="#ff0000"/><rect x="132" y="433" width="4" height="1" fill="#ff0000"/><rect x="455" y="433" width="3" height="1" fill="#ff0000"/><rect x="769" y="433" width="4" height="1" fill="#ff0000"/><rect x="23" y="434" width="5" height="1" fill="#ff0000"/><rect x="136" y="434" width="4" height="1" fill="#ff0000"/><rect x="453" y="434" width="2" height="1" fill="#ff0000"/><rect x="772" y="434" width="4" height="1" fill="#ff0000"/><rect x="15" y="435" width="8" height="1" fill="#ff0000"/><rect x="140" y="435" width="4" height="1" fill="#ff0000"/><rect x="449" y="435" width="4" height="1" fill="#ff0000"/><rect x="776" y="435" width="4" height="1" fill="#ff0000"/><rect x="5" y="436" width="10" height="1" fill="#ff0000"/><rect x="144" y="436" width="6" height="1" fill="#ff0000"/><rect x="444" y="436" width="5" height="1" fill="#ff0000"/><rect x="780" y="436" width="4" height="1" fill="#ff0000"/><rect x="2" y="437" width="3" height="1" fill="#ff0000"/><rect x="150" y="437" width="6" height="1" fill="#ff0000"/><rect x="439" y="437" width="5" height="1" fill="#ff0000"/><rect x="784" y="437" width="4" height="1" fill="#ff0000"/><rect x="156" y="438" width="6" height="1" fill="#ff0000"/><rect x="435" y="438" width="4" height="1" fill="#ff0000"/><rect x="788" y="438" width="4" height="1" fill="#ff0000"/><rect x="162" y="439" width="4" height="1" fill="#ff0000"/><rect x="431" y="439" width="4" height="1" fill="#ff0000"/><rect x="792" y="439" width="4" height="1" fill="#ff0000"/><rect x="166" y="440" width="5" height="1" fill="#ff0000"/><rect x="427" y="440" width="4" height="1" fill="#ff0000"/><rect x="796" y="440" width="5" height="1" fill="#ff0000"/><rect x="171" y="441" width="4" height="1" fill="#ff0000"/><rect x="423" y="441" width="4" height="1" fill="#ff0000"/><rect x="800" y="441" width="5" height="1" fill="#ff0000"/><rect x="175" y="442" width="5" height="1" fill="#ff0000"/><rect x="420" y="442" width="3" height="1" fill="#ff0000"/><rect x="805" y="442" width="5" height="1" fill="#ff0000"/><rect x="179" y="443" width="3" height="1" fill="#ff0000"/><rect x="418" y="443" width="2" height="1" fill="#ff0000"/><rect x="810" y="443" width="4" height="1" fill="#ff0000"/><rect x="182" y="444" width="3" height="1" fill="#ff0000"/><rect x="415" y="444" width="3" height="1" fill="#ff0000"/><rect x="814" y="444" width="5" height="1" fill="#ff0000"/><rect x="185" y="445" width="3" height="1" fill="#ff0000"/><rect x="412" y="445" width="3" height="1" fill="#ff0000"/><rect x="819" y="445" width="4" height="1" fill="#ff0000"/><rect x="188" y="446" width="3" height="1" fill="#ff0000"/><rect x="408" y="446" width="4" height="1" fill="#ff0000"/><rect x="823" y="446" width="4" height="1" fill="#ff0000"/><rect x="191" y="447" width="3" height="1" fill="#ff0000"/><rect x="403" y="447" width="5" height="1" fill="#ff0000"/><rect x="827" y="447" width="3" height="1" fill="#ff0000"/><rect x="194" y="448" width="3" height="1" fill="#ff0000"/><rect x="399" y="448" width="4" height="1" fill="#ff0000"/><rect x="830" y="448" width="4" height="1" fill="#ff0000"/><rect x="197" y="449" width="3" height="1" fill="#ff0000"/><rect x="395" y="449" width="4" height="1" fill="#ff0000"/><rect x="834" y="449" width="3" height="1" fill="#ff0000"/><rect x="200" y="450" width="2" height="1" fill="#ff0000"/><rect x="391" y="450" width="4" height="1" fill="#ff0000"/><rect x="837" y="450" width="4" height="1" fill="#ff0000"/><rect x="202" y="451" width="3" height="1" fill="#ff0000"/><rect x="387" y="451" width="4" height="1" fill="#ff0000"/><rect x="841" y="451" width="4" height="1" fill="#ff0000"/><rect x="205" y="452" width="3" height="1" fill="#ff0000"/><rect x="383" y="452" width="4" height="1" fill="#ff0000"/><rect x="845" y="452" width="4" height="1" fill="#ff0000"/><rect x="208" y="453" width="4" height="1" fill="#ff0000"/><rect x="379" y="453" width="4" height="1" fill="#ff0000"/><rect x="849" y="453" width="4" height="1" fill="#ff0000"/><rect x="212" y="454" width="5" height="1" fill="#ff0000"/><rect x="375" y="454" width="4" height="1" fill="#ff0000"/><rect x="853" y="454" width="4" height="1" fill="#ff0000"/><rect x="217" y="455" width="4" height="1" fill="#ff0000"/><rect x="371" y="455" width="4" height="1" fill="#ff0000"/><rect x="857" y="455" width="4" height="1" fill="#ff0000"/><rect x="221" y="456" width="4" height="1" fill="#ff0000"/><rect x="367" y="456" width="4" height="1" fill="#ff0000"/><rect x="861" y="456" width="4" height="1" fill="#ff0000"/><rect x="225" y="457" width="3" height="1" fill="#ff0000"/><rect x="363" y="457" width="4" height="1" fill="#ff0000"/><rect x="865" y="457" width="5" height="1" fill="#ff0000"/><rect x="228" y="458" width="3" height="1" fill="#ff0000"/><rect x="359" y="458" width="4" height="1" fill="#ff0000"/><rect x="870" y="458" width="4" height="1" fill="#ff0000"/><rect x="231" y="459" width="4" height="1" fill="#ff0000"/><rect x="353" y="459" width="6" height="1" fill="#ff0000"/><rect x="874" y="459" width="4" height="1" fill="#ff0000"/><rect x="235" y="460" width="3" height="1" fill="#ff0000"/><rect x="347" y="460" width="6" height="1" fill="#ff0000"/><rect x="878" y="460" width="4" height="1" fill="#ff0000"/><rect x="238" y="461" width="4" height="1" fill="#ff0000"/><rect x="341" y="461" width="6" height="1" fill="#ff0000"/><rect x="882" y="461" width="5" height="1" fill="#ff0000"/><rect x="910" y="461" width="5" height="1" fill="#ff0000"/><rect x="242" y="462" width="6" height="1" fill="#ff0000"/><rect x="336" y="462" width="5" height="1" fill="#ff0000"/><rect x="887" y="462" width="23" height="1" fill="#ff0000"/><rect x="248" y="463" width="5" height="1" fill="#ff0000"/><rect x="330" y="463" width="6" height="1" fill="#ff0000"/><rect x="253" y="464" width="5" height="1" fill="#ff0000"/><rect x="324" y="464" width="6" height="1" fill="#ff0000"/><rect x="258" y="465" width="5" height="1" fill="#ff0000"/><rect x="318" y="465" width="6" height="1" fill="#ff0000"/><rect x="263" y="466" width="8" height="1" fill="#ff0000"/><rect x="305" y="466" width="13" height="1" fill="#ff0000"/><rect x="271" y="467" width="34" height="1" fill="#ff0000"/><rect x="1165" y="406" width="1" height="1" fill="#000"/><rect x="1165" y="440" width="1" height="1" fill="#000"/><rect x="1165" y="472" width="1" height="1" fill="#000"/><rect x="3" y="497" width="3" height="1" fill="#c0c0c0"/><rect x="9" y="497" width="3" height="1" fill="#c0c0c0"/><rect x="15" y="497" width="3" height="1" fill="#c0c0c0"/><rect x="21" y="497" width="3" height="1" fill="#c0c0c0"/><rect x="27" y="497" width="3" height="1" fill="#c0c0c0"/><rect x="33" y="497" width="3" height="1" fill="#c0c0c0"/><rect x="39" y="497" width="3" height="1" fill="#c0c0c0"/><rect x="45" y="497" width="3" height="1" fill="#c0c0c0"/><rect x="51" y="497" width="3" height="1" fill="#c0c0c0"/><rect x="57" y="497" width="3" height="1" fill="#c0c0c0"/><rect x="63" y="497" width="3" height="1" fill="#c0c0c0"/><rect x="69" y="497" width="3" height="1" fill="#c0c0c0"/><rect x="75" y="497" width="3" height="1" fill="#c0c0c0"/><rect x="81" y="497" width="3" height="1" fill="#c0c0c0"/><rect x="87" y="497" width="3" height="1" fill="#c0c0c0"/><rect x="93" y="497" width="3" height="1" fill="#c0c0c0"/><rect x="99" y="497" width="3" height="1" fill="#c0c0c0"/><rect x="105" y="497" width="3" height="1" fill="#c0c0c0"/><rect x="111" y="497" width="3" height="1" fill="#c0c0c0"/><rect x="117" y="497" width="3" height="1" fill="#c0c0c0"/><rect x="123" y="497" width="3" height="1" fill="#c0c0c0"/><rect x="129" y="497" width="3" height="1" fill="#c0c0c0"/><rect x="135" y="497" width="3" height="1" fill="#c0c0c0"/><rect x="141" y="497" width="3" height="1" fill="#c0c0c0"/><rect x="147" y="497" width="3" height="1" fill="#c0c0c0"/><rect x="153" y="497" width="3" height="1" fill="#c0c0c0"/><rect x="159" y="497" width="3" height="1" fill="#c0c0c0"/><rect x="165" y="497" width="3" height="1" fill="#c0c0c0"/><rect x="171" y="497" width="3" height="1" fill="#c0c0c0"/><rect x="177" y="497" width="3" height="1" fill="#c0c0c0"/><rect x="183" y="497" width="3" height="1" fill="#c0c0c0"/><rect x="189" y="497" width="3" height="1" fill="#c0c0c0"/><rect x="195" y="497" width="3" height="1" fill="#c0c0c0"/><rect x="201" y="497" width="3" height="1" fill="#c0c0c0"/><rect x="207" y="497" width="3" height="1" fill="#c0c0c0"/><rect x="213" y="497" width="3" height="1" fill="#c0c0c0"/><rect x="219" y="497" width="3" height="1" fill="#c0c0c0"/><rect x="225" y="497" width="3" height="1" fill="#c0c0c0"/><rect x="231" y="497" width="3" height="1" fill="#c0c0c0"/><rect x="237" y="497" width="3" height="1" fill="#c0c0c0"/><rect x="243" y="497" width="3" height="1" fill="#c0c0c0"/><rect x="249" y="497" width="3" height="1" fill="#c0c0c0"/><rect x="255" y="497" width="3" height="1" fill="#c0c0c0"/><rect x="261" y="497" width="3" height="1" fill="#c0c0c0"/><rect x="267" y="497" width="3" height="1" fill="#c0c0c0"/><rect x="273" y="497" width="3" height="1" fill="#c0c0c0"/><rect x="279" y="497" width="3" height="1" fill="#c0c0c0"/><rect x="285" y="497" width="3" height="1" fill="#c0c0c0"/><rect x="291" y="497" width="3" height="1" fill="#c0c0c0"/><rect x="297" y="497" width="3" height="1" fill="#c0c0c0"/><rect x="303" y="497" width="3" height="1" fill="#c0c0c0"/><rect x="309" y="497" width="3" height="1" fill="#c0c0c0"/><rect x="315" y="497" width="3" height="1" fill="#c0c0c0"/><rect x="321" y="497" width="3" height="1" fill="#c0c0c0"/><rect x="327" y="497" width="3" height="1" fill="#c0c0c0"/><rect x="333" y="497" width="3" height="1" fill="#c0c0c0"/><rect x="339" y="497" width="3" height="1" fill="#c0c0c0"/><rect x="345" y="497" width="3" height="1" fill="#c0c0c0"/><rect x="351" y="497" width="3" height="1" fill="#c0c0c0"/><rect x="357" y="497" width="3" height="1" fill="#c0c0c0"/><rect x="363" y="497" width="3" height="1" fill="#c0c0c0"/><rect x="369" y="497" width="3" height="1" fill="#c0c0c0"/><rect x="375" y="497" width="3" height="1" fill="#c0c0c0"/><rect x="381" y="497" width="3" height="1" fill="#c0c0c0"/><rect x="387" y="497" width="3" height="1" fill="#c0c0c0"/><rect x="393" y="497" width="3" height="1" fill="#c0c0c0"/><rect x="399" y="497" width="3" height="1" fill="#c0c0c0"/><rect x="405" y="497" width="3" height="1" fill="#c0c0c0"/><rect x="411" y="497" width="3" height="1" fill="#c0c0c0"/><rect x="417" y="497" width="3" height="1" fill="#c0c0c0"/><rect x="423" y="497" width="3" height="1" fill="#c0c0c0"/><rect x="429" y="497" width="3" height="1" fill="#c0c0c0"/><rect x="435" y="497" width="3" height="1" fill="#c0c0c0"/><rect x="441" y="497" width="3" height="1" fill="#c0c0c0"/><rect x="447" y="497" width="3" height="1" fill="#c0c0c0"/><rect x="453" y="497" width="3" height="1" fill="#c0c0c0"/><rect x="459" y="497" width="3" height="1" fill="#c0c0c0"/><rect x="465" y="497" width="3" height="1" fill="#c0c0c0"/><rect x="471" y="497" width="3" height="1" fill="#c0c0c0"/><rect x="477" y="497" width="3" height="1" fill="#c0c0c0"/><rect x="483" y="497" width="3" height="1" fill="#c0c0c0"/><rect x="489" y="497" width="3" height="1" fill="#c0c0c0"/><rect x="495" y="497" width="3" height="1" fill="#c0c0c0"/><rect x="501" y="497" width="3" height="1" fill="#c0c0c0"/><rect x="507" y="497" width="3" height="1" fill="#c0c0c0"/><rect x="513" y="497" width="3" height="1" fill="#c0c0c0"/><rect x="519" y="497" width="3" height="1" fill="#c0c0c0"/><rect x="525" y="497" width="3" height="1" fill="#c0c0c0"/><rect x="531" y="497" width="3" height="1" fill="#c0c0c0"/><rect x="537" y="497" width="3" height="1" fill="#c0c0c0"/><rect x="543" y="497" width="3" height="1" fill="#c0c0c0"/><rect x="549" y="497" width="3" height="1" fill="#c0c0c0"/><rect x="555" y="497" width="3" height="1" fill="#c0c0c0"/><rect x="561" y="497" width="3" height="1" fill="#c0c0c0"/><rect x="567" y="497" width="3" height="1" fill="#c0c0c0"/><rect x="573" y="497" width="3" height="1" fill="#c0c0c0"/><rect x="579" y="497" width="3" height="1" fill="#c0c0c0"/><rect x="585" y="497" width="3" height="1" fill="#c0c0c0"/><rect x="591" y="497" width="3" height="1" fill="#c0c0c0"/><rect x="597" y="497" width="3" height="1" fill="#c0c0c0"/><rect x="603" y="497" width="3" height="1" fill="#c0c0c0"/><rect x="609" y="497" width="3" height="1" fill="#c0c0c0"/><rect x="615" y="497" width="3" height="1" fill="#c0c0c0"/><rect x="621" y="497" width="3" height="1" fill="#c0c0c0"/><rect x="627" y="497" width="3" height="1" fill="#c0c0c0"/><rect x="633" y="497" width="3" height="1" fill="#c0c0c0"/><rect x="639" y="497" width="3" height="1" fill="#c0c0c0"/><rect x="645" y="497" width="3" height="1" fill="#c0c0c0"/><rect x="651" y="497" width="3" height="1" fill="#c0c0c0"/><rect x="657" y="497" width="3" height="1" fill="#c0c0c0"/><rect x="663" y="497" width="3" height="1" fill="#c0c0c0"/><rect x="669" y="497" width="3" height="1" fill="#c0c0c0"/><rect x="675" y="497" width="3" height="1" fill="#c0c0c0"/><rect x="681" y="497" width="3" height="1" fill="#c0c0c0"/><rect x="687" y="497" width="3" height="1" fill="#c0c0c0"/><rect x="693" y="497" width="3" height="1" fill="#c0c0c0"/><rect x="699" y="497" width="3" height="1" fill="#c0c0c0"/><rect x="705" y="497" width="3" height="1" fill="#c0c0c0"/><rect x="711" y="497" width="3" height="1" fill="#c0c0c0"/><rect x="717" y="497" width="3" height="1" fill="#c0c0c0"/><rect x="723" y="497" width="3" height="1" fill="#c0c0c0"/><rect x="729" y="497" width="3" height="1" fill="#c0c0c0"/><rect x="735" y="497" width="3" height="1" fill="#c0c0c0"/><rect x="741" y="497" width="3" height="1" fill="#c0c0c0"/><rect x="747" y="497" width="3" height="1" fill="#c0c0c0"/><rect x="753" y="497" width="3" height="1" fill="#c0c0c0"/><rect x="759" y="497" width="3" height="1" fill="#c0c0c0"/><rect x="765" y="497" width="3" height="1" fill="#c0c0c0"/><rect x="771" y="497" width="3" height="1" fill="#c0c0c0"/><rect x="777" y="497" width="3" height="1" fill="#c0c0c0"/><rect x="783" y="497" width="3" height="1" fill="#c0c0c0"/><rect x="789" y="497" width="3" height="1" fill="#c0c0c0"/><rect x="795" y="497" width="3" height="1" fill="#c0c0c0"/><rect x="801" y="497" width="3" height="1" fill="#c0c0c0"/><rect x="807" y="497" width="3" height="1" fill="#c0c0c0"/><rect x="813" y="497" width="3" height="1" fill="#c0c0c0"/><rect x="819" y="497" width="3" height="1" fill="#c0c0c0"/><rect x="825" y="497" width="3" height="1" fill="#c0c0c0"/><rect x="831" y="497" width="3" height="1" fill="#c0c0c0"/><rect x="837" y="497" width="3" height="1" fill="#c0c0c0"/><rect x="843" y="497" width="3" height="1" fill="#c0c0c0"/><rect x="849" y="497" width="3" height="1" fill="#c0c0c0"/><rect x="855" y="497" width="3" height="1" fill="#c0c0c0"/><rect x="861" y="497" width="3" height="1" fill="#c0c0c0"/><rect x="867" y="497" width="3" height="1" fill="#c0c0c0"/><rect x="873" y="497" width="3" height="1" fill="#c0c0c0"/><rect x="879" y="497" width="3" height="1" fill="#c0c0c0"/><rect x="885" y="497" width="3" height="1" fill="#c0c0c0"/><rect x="891" y="497" width="3" height="1" fill="#c0c0c0"/><rect x="897" y="497" width="3" height="1" fill="#c0c0c0"/><rect x="903" y="497" width="3" height="1" fill="#c0c0c0"/><rect x="909" y="497" width="3" height="1" fill="#c0c0c0"/><rect x="915" y="497" width="3" height="1" fill="#c0c0c0"/><rect x="921" y="497" width="3" height="1" fill="#c0c0c0"/><rect x="927" y="497" width="3" height="1" fill="#c0c0c0"/><rect x="933" y="497" width="3" height="1" fill="#c0c0c0"/><rect x="939" y="497" width="3" height="1" fill="#c0c0c0"/><rect x="945" y="497" width="3" height="1" fill="#c0c0c0"/><rect x="951" y="497" width="3" height="1" fill="#c0c0c0"/><rect x="957" y="497" width="3" height="1" fill="#c0c0c0"/><rect x="963" y="497" width="3" height="1" fill="#c0c0c0"/><rect x="969" y="497" width="3" height="1" fill="#c0c0c0"/><rect x="975" y="497" width="3" height="1" fill="#c0c0c0"/><rect x="981" y="497" width="3" height="1" fill="#c0c0c0"/><rect x="987" y="497" width="3" height="1" fill="#c0c0c0"/><rect x="993" y="497" width="3" height="1" fill="#c0c0c0"/><rect x="999" y="497" width="3" height="1" fill="#c0c0c0"/><rect x="1005" y="497" width="3" height="1" fill="#c0c0c0"/><rect x="1011" y="497" width="3" height="1" fill="#c0c0c0"/><rect x="1017" y="497" width="3" height="1" fill="#c0c0c0"/><rect x="1023" y="497" width="3" height="1" fill="#c0c0c0"/><rect x="1029" y="497" width="3" height="1" fill="#c0c0c0"/><rect x="1035" y="497" width="3" height="1" fill="#c0c0c0"/><rect x="1041" y="497" width="3" height="1" fill="#c0c0c0"/><rect x="1047" y="497" width="3" height="1" fill="#c0c0c0"/><rect x="1053" y="497" width="3" height="1" fill="#c0c0c0"/><rect x="1059" y="497" width="3" height="1" fill="#c0c0c0"/><rect x="1065" y="497" width="3" height="1" fill="#c0c0c0"/><rect x="1071" y="497" width="3" height="1" fill="#c0c0c0"/><rect x="1077" y="497" width="3" height="1" fill="#c0c0c0"/><rect x="1083" y="497" width="3" height="1" fill="#c0c0c0"/><rect x="1089" y="497" width="3" height="1" fill="#c0c0c0"/><rect x="1095" y="497" width="3" height="1" fill="#c0c0c0"/><rect x="1101" y="497" width="3" height="1" fill="#c0c0c0"/><rect x="1107" y="497" width="3" height="1" fill="#c0c0c0"/><rect x="1113" y="497" width="3" height="1" fill="#c0c0c0"/><rect x="1119" y="497" width="3" height="1" fill="#c0c0c0"/><rect x="1125" y="497" width="3" height="1" fill="#c0c0c0"/><rect x="1131" y="497" width="3" height="1" fill="#c0c0c0"/><rect x="1137" y="497" width="3" height="1" fill="#c0c0c0"/><rect x="1143" y="497" width="3" height="1" fill="#c0c0c0"/><rect x="1149" y="497" width="3" height="1" fill="#c0c0c0"/><rect x="1155" y="497" width="3" height="1" fill="#c0c0c0"/><rect x="1161" y="497" width="3" height="1" fill="#c0c0c0"/><rect x="3" y="525" width="3" height="1" fill="#c0c0c0"/><rect x="9" y="525" width="3" height="1" fill="#c0c0c0"/><rect x="15" y="525" width="3" height="1" fill="#c0c0c0"/><rect x="21" y="525" width="3" height="1" fill="#c0c0c0"/><rect x="27" y="525" width="3" height="1" fill="#c0c0c0"/><rect x="33" y="525" width="3" height="1" fill="#c0c0c0"/><rect x="39" y="525" width="3" height="1" fill="#c0c0c0"/><rect x="45" y="525" width="3" height="1" fill="#c0c0c0"/><rect x="51" y="525" width="3" height="1" fill="#c0c0c0"/><rect x="57" y="525" width="3" height="1" fill="#c0c0c0"/><rect x="63" y="525" width="3" height="1" fill="#c0c0c0"/><rect x="69" y="525" width="3" height="1" fill="#c0c0c0"/><rect x="75" y="525" width="3" height="1" fill="#c0c0c0"/><rect x="81" y="525" width="3" height="1" fill="#c0c0c0"/><rect x="87" y="525" width="3" height="1" fill="#c0c0c0"/><rect x="93" y="525" width="3" height="1" fill="#c0c0c0"/><rect x="99" y="525" width="3" height="1" fill="#c0c0c0"/><rect x="105" y="525" width="3" height="1" fill="#c0c0c0"/><rect x="111" y="525" width="3" height="1" fill="#c0c0c0"/><rect x="117" y="525" width="3" height="1" fill="#c0c0c0"/><rect x="123" y="525" width="3" height="1" fill="#c0c0c0"/><rect x="129" y="525" width="3" height="1" fill="#c0c0c0"/><rect x="135" y="525" width="3" height="1" fill="#c0c0c0"/><rect x="141" y="525" width="3" height="1" fill="#c0c0c0"/><rect x="147" y="525" width="3" height="1" fill="#c0c0c0"/><rect x="153" y="525" width="3" height="1" fill="#c0c0c0"/><rect x="159" y="525" width="3" height="1" fill="#c0c0c0"/><rect x="165" y="525" width="3" height="1" fill="#c0c0c0"/><rect x="171" y="525" width="3" height="1" fill="#c0c0c0"/><rect x="177" y="525" width="3" height="1" fill="#c0c0c0"/><rect x="183" y="525" width="3" height="1" fill="#c0c0c0"/><rect x="189" y="525" width="3" height="1" fill="#c0c0c0"/><rect x="195" y="525" width="3" height="1" fill="#c0c0c0"/><rect x="201" y="525" width="3" height="1" fill="#c0c0c0"/><rect x="207" y="525" width="3" height="1" fill="#c0c0c0"/><rect x="213" y="525" width="3" height="1" fill="#c0c0c0"/><rect x="219" y="525" width="3" height="1" fill="#c0c0c0"/><rect x="225" y="525" width="3" height="1" fill="#c0c0c0"/><rect x="231" y="525" width="3" height="1" fill="#c0c0c0"/><rect x="237" y="525" width="3" height="1" fill="#c0c0c0"/><rect x="243" y="525" width="3" height="1" fill="#c0c0c0"/><rect x="249" y="525" width="3" height="1" fill="#c0c0c0"/><rect x="255" y="525" width="3" height="1" fill="#c0c0c0"/><rect x="261" y="525" width="3" height="1" fill="#c0c0c0"/><rect x="267" y="525" width="3" height="1" fill="#c0c0c0"/><rect x="273" y="525" width="3" height="1" fill="#c0c0c0"/><rect x="279" y="525" width="3" height="1" fill="#c0c0c0"/><rect x="285" y="525" width="3" height="1" fill="#c0c0c0"/><rect x="291" y="525" width="3" height="1" fill="#c0c0c0"/><rect x="297" y="525" width="3" height="1" fill="#c0c0c0"/><rect x="303" y="525" width="3" height="1" fill="#c0c0c0"/><rect x="309" y="525" width="3" height="1" fill="#c0c0c0"/><rect x="315" y="525" width="3" height="1" fill="#c0c0c0"/><rect x="321" y="525" width="3" height="1" fill="#c0c0c0"/><rect x="327" y="525" width="3" height="1" fill="#c0c0c0"/><rect x="333" y="525" width="3" height="1" fill="#c0c0c0"/><rect x="339" y="525" width="3" height="1" fill="#c0c0c0"/><rect x="345" y="525" width="3" height="1" fill="#c0c0c0"/><rect x="351" y="525" width="3" height="1" fill="#c0c0c0"/><rect x="357" y="525" width="3" height="1" fill="#c0c0c0"/><rect x="363" y="525" width="3" height="1" fill="#c0c0c0"/><rect x="369" y="525" width="3" height="1" fill="#c0c0c0"/><rect x="375" y="525" width="3" height="1" fill="#c0c0c0"/><rect x="381" y="525" width="3" height="1" fill="#c0c0c0"/><rect x="387" y="525" width="3" height="1" fill="#c0c0c0"/><rect x="393" y="525" width="3" height="1" fill="#c0c0c0"/><rect x="399" y="525" width="3" height="1" fill="#c0c0c0"/><rect x="405" y="525" width="3" height="1" fill="#c0c0c0"/><rect x="411" y="525" width="3" height="1" fill="#c0c0c0"/><rect x="417" y="525" width="3" height="1" fill="#c0c0c0"/><rect x="423" y="525" width="3" height="1" fill="#c0c0c0"/><rect x="429" y="525" width="3" height="1" fill="#c0c0c0"/><rect x="435" y="525" width="3" height="1" fill="#c0c0c0"/><rect x="441" y="525" width="3" height="1" fill="#c0c0c0"/><rect x="447" y="525" width="3" height="1" fill="#c0c0c0"/><rect x="453" y="525" width="3" height="1" fill="#c0c0c0"/><rect x="459" y="525" width="3" height="1" fill="#c0c0c0"/><rect x="465" y="525" width="3" height="1" fill="#c0c0c0"/><rect x="471" y="525" width="3" height="1" fill="#c0c0c0"/><rect x="477" y="525" width="3" height="1" fill="#c0c0c0"/><rect x="483" y="525" width="3" height="1" fill="#c0c0c0"/><rect x="489" y="525" width="3" height="1" fill="#c0c0c0"/><rect x="495" y="525" width="3" height="1" fill="#c0c0c0"/><rect x="501" y="525" width="3" height="1" fill="#c0c0c0"/><rect x="507" y="525" width="3" height="1" fill="#c0c0c0"/><rect x="513" y="525" width="3" height="1" fill="#c0c0c0"/><rect x="519" y="525" width="3" height="1" fill="#c0c0c0"/><rect x="525" y="525" width="3" height="1" fill="#c0c0c0"/><rect x="531" y="525" width="3" height="1" fill="#c0c0c0"/><rect x="537" y="525" width="3" height="1" fill="#c0c0c0"/><rect x="543" y="525" width="3" height="1" fill="#c0c0c0"/><rect x="549" y="525" width="3" height="1" fill="#c0c0c0"/><rect x="555" y="525" width="3" height="1" fill="#c0c0c0"/><rect x="561" y="525" width="3" height="1" fill="#c0c0c0"/><rect x="567" y="525" width="3" height="1" fill="#c0c0c0"/><rect x="573" y="525" width="3" height="1" fill="#c0c0c0"/><rect x="579" y="525" width="3" height="1" fill="#c0c0c0"/><rect x="585" y="525" width="3" height="1" fill="#c0c0c0"/><rect x="591" y="525" width="3" height="1" fill="#c0c0c0"/><rect x="597" y="525" width="3" height="1" fill="#c0c0c0"/><rect x="603" y="525" width="3" height="1" fill="#c0c0c0"/><rect x="609" y="525" width="3" height="1" fill="#c0c0c0"/><rect x="615" y="525" width="3" height="1" fill="#c0c0c0"/><rect x="621" y="525" width="3" height="1" fill="#c0c0c0"/><rect x="627" y="525" width="3" height="1" fill="#c0c0c0"/><rect x="633" y="525" width="3" height="1" fill="#c0c0c0"/><rect x="639" y="525" width="3" height="1" fill="#c0c0c0"/><rect x="645" y="525" width="3" height="1" fill="#c0c0c0"/><rect x="651" y="525" width="3" height="1" fill="#c0c0c0"/><rect x="657" y="525" width="3" height="1" fill="#c0c0c0"/><rect x="663" y="525" width="3" height="1" fill="#c0c0c0"/><rect x="669" y="525" width="3" height="1" fill="#c0c0c0"/><rect x="675" y="525" width="3" height="1" fill="#c0c0c0"/><rect x="681" y="525" width="3" height="1" fill="#c0c0c0"/><rect x="687" y="525" width="3" height="1" fill="#c0c0c0"/><rect x="693" y="525" width="3" height="1" fill="#c0c0c0"/><rect x="699" y="525" width="3" height="1" fill="#c0c0c0"/><rect x="705" y="525" width="3" height="1" fill="#c0c0c0"/><rect x="711" y="525" width="3" height="1" fill="#c0c0c0"/><rect x="717" y="525" width="3" height="1" fill="#c0c0c0"/><rect x="723" y="525" width="3" height="1" fill="#c0c0c0"/><rect x="729" y="525" width="3" height="1" fill="#c0c0c0"/><rect x="735" y="525" width="3" height="1" fill="#c0c0c0"/><rect x="741" y="525" width="3" height="1" fill="#c0c0c0"/><rect x="747" y="525" width="3" height="1" fill="#c0c0c0"/><rect x="753" y="525" width="3" height="1" fill="#c0c0c0"/><rect x="759" y="525" width="3" height="1" fill="#c0c0c0"/><rect x="765" y="525" width="3" height="1" fill="#c0c0c0"/><rect x="771" y="525" width="3" height="1" fill="#c0c0c0"/><rect x="777" y="525" width="3" height="1" fill="#c0c0c0"/><rect x="783" y="525" width="3" height="1" fill="#c0c0c0"/><rect x="789" y="525" width="3" height="1" fill="#c0c0c0"/><rect x="795" y="525" width="3" height="1" fill="#c0c0c0"/><rect x="801" y="525" width="3" height="1" fill="#c0c0c0"/><rect x="807" y="525" width="3" height="1" fill="#c0c0c0"/><rect x="813" y="525" width="3" height="1" fill="#c0c0c0"/><rect x="819" y="525" width="3" height="1" fill="#c0c0c0"/><rect x="825" y="525" width="3" height="1" fill="#c0c0c0"/><rect x="831" y="525" width="3" height="1" fill="#c0c0c0"/><rect x="837" y="525" width="3" height="1" fill="#c0c0c0"/><rect x="843" y="525" width="3" height="1" fill="#c0c0c0"/><rect x="849" y="525" width="3" height="1" fill="#c0c0c0"/><rect x="855" y="525" width="3" height="1" fill="#c0c0c0"/><rect x="861" y="525" width="3" height="1" fill="#c0c0c0"/><rect x="867" y="525" width="3" height="1" fill="#c0c0c0"/><rect x="873" y="525" width="3" height="1" fill="#c0c0c0"/><rect x="879" y="525" width="3" height="1" fill="#c0c0c0"/><rect x="885" y="525" width="3" height="1" fill="#c0c0c0"/><rect x="891" y="525" width="3" height="1" fill="#c0c0c0"/><rect x="897" y="525" width="3" height="1" fill="#c0c0c0"/><rect x="903" y="525" width="3" height="1" fill="#c0c0c0"/><rect x="909" y="525" width="3" height="1" fill="#c0c0c0"/><rect x="915" y="525" width="3" height="1" fill="#c0c0c0"/><rect x="921" y="525" width="3" height="1" fill="#c0c0c0"/><rect x="927" y="525" width="3" height="1" fill="#c0c0c0"/><rect x="933" y="525" width="3" height="1" fill="#c0c0c0"/><rect x="939" y="525" width="3" height="1" fill="#c0c0c0"/><rect x="945" y="525" width="3" height="1" fill="#c0c0c0"/><rect x="951" y="525" width="3" height="1" fill="#c0c0c0"/><rect x="957" y="525" width="3" height="1" fill="#c0c0c0"/><rect x="963" y="525" width="3" height="1" fill="#c0c0c0"/><rect x="969" y="525" width="3" height="1" fill="#c0c0c0"/><rect x="975" y="525" width="3" height="1" fill="#c0c0c0"/><rect x="981" y="525" width="3" height="1" fill="#c0c0c0"/><rect x="987" y="525" width="3" height="1" fill="#c0c0c0"/><rect x="993" y="525" width="3" height="1" fill="#c0c0c0"/><rect x="999" y="525" width="3" height="1" fill="#c0c0c0"/><rect x="1005" y="525" width="3" height="1" fill="#c0c0c0"/><rect x="1011" y="525" width="3" height="1" fill="#c0c0c0"/><rect x="1017" y="525" width="3" height="1" fill="#c0c0c0"/><rect x="1023" y="525" width="3" height="1" fill="#c0c0c0"/><rect x="1029" y="525" width="3" height="1" fill="#c0c0c0"/><rect x="1035" y="525" width="3" height="1" fill="#c0c0c0"/><rect x="1041" y="525" width="3" height="1" fill="#c0c0c0"/><rect x="1047" y="525" width="3" height="1" fill="#c0c0c0"/><rect x="1053" y="525" width="3" height="1" fill="#c0c0c0"/><rect x="1059" y="525" width="3" height="1" fill="#c0c0c0"/><rect x="1065" y="525" width="3" height="1" fill="#c0c0c0"/><rect x="1071" y="525" width="3" height="1" fill="#c0c0c0"/><rect x="1077" y="525" width="3" height="1" fill="#c0c0c0"/><rect x="1083" y="525" width="3" height="1" fill="#c0c0c0"/><rect x="1089" y="525" width="3" height="1" fill="#c0c0c0"/><rect x="1095" y="525" width="3" height="1" fill="#c0c0c0"/><rect x="1101" y="525" width="3" height="1" fill="#c0c0c0"/><rect x="1107" y="525" width="3" height="1" fill="#c0c0c0"/><rect x="1113" y="525" width="3" height="1" fill="#c0c0c0"/><rect x="1119" y="525" width="3" height="1" fill="#c0c0c0"/><rect x="1125" y="525" width="3" height="1" fill="#c0c0c0"/><rect x="1131" y="525" width="3" height="1" fill="#c0c0c0"/><rect x="1137" y="525" width="3" height="1" fill="#c0c0c0"/><rect x="1143" y="525" width="3" height="1" fill="#c0c0c0"/><rect x="1149" y="525" width="3" height="1" fill="#c0c0c0"/><rect x="1155" y="525" width="3" height="1" fill="#c0c0c0"/><rect x="1161" y="525" width="3" height="1" fill="#c0c0c0"/><rect x="504" y="496" width="2" height="1" fill="#1e90ff"/><rect x="507" y="496" width="2" height="1" fill="#1e90ff"/><rect x="540" y="496" width="17" height="1" fill="#1e90ff"/><rect x="471" y="497" width="5" height="1" fill="#1e90ff"/><rect x="533" y="497" width="7" height="1" fill="#1e90ff"/><rect x="557" y="497" width="5" height="1" fill="#1e90ff"/><rect x="456" y="498" width="3" height="1" fill="#1e90ff"/><rect x="460" y="498" width="5" height="1" fill="#1e90ff"/><rect x="467" y="498" width="4" height="1" fill="#1e90ff"/><rect x="476" y="498" width="3" height="1" fill="#1e90ff"/><rect x="529" y="498" width="4" height="1" fill="#1e90ff"/><rect x="402" y="499" width="2" height="1" fill="#1e90ff"/><rect x="454" y="499" width="2" height="1" fill="#1e90ff"/><rect x="465" y="499" width="2" height="1" fill="#1e90ff"/><rect x="479" y="499" width="4" height="1" fill="#1e90ff"/><rect x="500" y="499" width="2" height="1" fill="#1e90ff"/><rect x="511" y="499" width="2" height="1" fill="#1e90ff"/><rect x="524" y="499" width="5" height="1" fill="#1e90ff"/><rect x="563" y="499" width="2" height="1" fill="#1e90ff"/><rect x="404" y="500" width="2" height="1" fill="#1e90ff"/><rect x="451" y="500" width="3" height="1" fill="#1e90ff"/><rect x="483" y="500" width="4" height="1" fill="#1e90ff"/><rect x="518" y="500" width="6" height="1" fill="#1e90ff"/><rect x="625" y="500" width="3" height="1" fill="#1e90ff"/><rect x="661" y="500" width="10" height="1" fill="#1e90ff"/><rect x="44" y="501" width="7" height="1" fill="#1e90ff"/><rect x="399" y="501" width="2" height="1" fill="#1e90ff"/><rect x="406" y="501" width="2" height="1" fill="#1e90ff"/><rect x="439" y="501" width="12" height="1" fill="#1e90ff"/><rect x="487" y="501" width="12" height="1" fill="#1e90ff"/><rect x="514" y="501" width="4" height="1" fill="#1e90ff"/><rect x="623" y="501" width="2" height="1" fill="#1e90ff"/><rect x="628" y="501" width="3" height="1" fill="#1e90ff"/><rect x="654" y="501" width="7" height="1" fill="#1e90ff"/><rect x="671" y="501" width="4" height="1" fill="#1e90ff"/><rect x="38" y="502" width="6" height="1" fill="#1e90ff"/><rect x="51" y="502" width="3" height="1" fill="#1e90ff"/><rect x="408" y="502" width="2" height="1" fill="#1e90ff"/><rect x="435" y="502" width="4" height="1" fill="#1e90ff"/><rect x="567" y="502" width="2" height="1" fill="#1e90ff"/><rect x="620" y="502" width="3" height="1" fill="#1e90ff"/><rect x="631" y="502" width="2" height="1" fill="#1e90ff"/><rect x="650" y="502" width="4" height="1" fill="#1e90ff"/><rect x="675" y="502" width="2" height="1" fill="#1e90ff"/><rect x="33" y="503" width="5" height="1" fill="#1e90ff"/><rect x="54" y="503" width="3" height="1" fill="#1e90ff"/><rect x="410" y="503" width="6" height="1" fill="#1e90ff"/><rect x="433" y="503" width="2" height="1" fill="#1e90ff"/><rect x="618" y="503" width="2" height="1" fill="#1e90ff"/><rect x="633" y="503" width="3" height="1" fill="#1e90ff"/><rect x="648" y="503" width="2" height="1" fill="#1e90ff"/><rect x="28" y="504" width="5" height="1" fill="#1e90ff"/><rect x="57" y="504" width="2" height="1" fill="#1e90ff"/><rect x="416" y="504" width="4" height="1" fill="#1e90ff"/><rect x="431" y="504" width="2" height="1" fill="#1e90ff"/><rect x="616" y="504" width="2" height="1" fill="#1e90ff"/><rect x="636" y="504" width="2" height="1" fill="#1e90ff"/><rect x="646" y="504" width="2" height="1" fill="#1e90ff"/><rect x="678" y="504" width="2" height="1" fill="#1e90ff"/><rect x="24" y="505" width="4" height="1" fill="#1e90ff"/><rect x="420" y="505" width="2" height="1" fill="#1e90ff"/><rect x="429" y="505" width="2" height="1" fill="#1e90ff"/><rect x="614" y="505" width="2" height="1" fill="#1e90ff"/><rect x="638" y="505" width="2" height="1" fill="#1e90ff"/><rect x="680" y="505" width="2" height="1" fill="#1e90ff"/><rect x="22" y="506" width="2" height="1" fill="#1e90ff"/><rect x="106" y="506" width="2" height="1" fill="#1e90ff"/><rect x="393" y="506" width="2" height="1" fill="#1e90ff"/><rect x="422" y="506" width="3" height="1" fill="#1e90ff"/><rect x="427" y="506" width="2" height="1" fill="#1e90ff"/><rect x="640" y="506" width="2" height="1" fill="#1e90ff"/><rect x="643" y="506" width="2" height="1" fill="#1e90ff"/><rect x="682" y="506" width="3" height="1" fill="#1e90ff"/><rect x="2" y="507" width="2" height="1" fill="#1e90ff"/><rect x="19" y="507" width="3" height="1" fill="#1e90ff"/><rect x="104" y="507" width="2" height="1" fill="#1e90ff"/><rect x="425" y="507" width="2" height="1" fill="#1e90ff"/><rect x="600" y="507" width="6" height="1" fill="#1e90ff"/><rect x="611" y="507" width="2" height="1" fill="#1e90ff"/><rect x="685" y="507" width="5" height="1" fill="#1e90ff"/><rect x="17" y="508" width="2" height="1" fill="#1e90ff"/><rect x="102" y="508" width="2" height="1" fill="#1e90ff"/><rect x="109" y="508" width="2" height="1" fill="#1e90ff"/><rect x="596" y="508" width="4" height="1" fill="#1e90ff"/><rect x="606" y="508" width="5" height="1" fill="#1e90ff"/><rect x="690" y="508" width="6" height="1" fill="#1e90ff"/><rect x="5" y="509" width="2" height="1" fill="#1e90ff"/><rect x="15" y="509" width="2" height="1" fill="#1e90ff"/><rect x="100" y="509" width="2" height="1" fill="#1e90ff"/><rect x="111" y="509" width="2" height="1" fill="#1e90ff"/><rect x="357" y="509" width="10" height="1" fill="#1e90ff"/><rect x="389" y="509" width="2" height="1" fill="#1e90ff"/><rect x="593" y="509" width="3" height="1" fill="#1e90ff"/><rect x="696" y="509" width="14" height="1" fill="#1e90ff"/><rect x="719" y="509" width="6" height="1" fill="#1e90ff"/><rect x="13" y="510" width="2" height="1" fill="#1e90ff"/><rect x="113" y="510" width="2" height="1" fill="#1e90ff"/><rect x="354" y="510" width="3" height="1" fill="#1e90ff"/><rect x="367" y="510" width="8" height="1" fill="#1e90ff"/><rect x="591" y="510" width="2" height="1" fill="#1e90ff"/><rect x="710" y="510" width="3" height="1" fill="#1e90ff"/><rect x="715" y="510" width="4" height="1" fill="#1e90ff"/><rect x="724" y="510" width="3" height="1" fill="#1e90ff"/><rect x="910" y="510" width="5" height="1" fill="#1e90ff"/><rect x="8" y="511" width="2" height="1" fill="#1e90ff"/><rect x="11" y="511" width="2" height="1" fill="#1e90ff"/><rect x="96" y="511" width="3" height="1" fill="#1e90ff"/><rect x="115" y="511" width="2" height="1" fill="#1e90ff"/><rect x="375" y="511" width="7" height="1" fill="#1e90ff"/><rect x="589" y="511" width="2" height="1" fill="#1e90ff"/><rect x="713" y="511" width="2" height="1" fill="#1e90ff"/><rect x="727" y="511" width="2" height="1" fill="#1e90ff"/><rect x="777" y="511" width="5" height="1" fill="#1e90ff"/><rect x="905" y="511" width="5" height="1" fill="#1e90ff"/><rect x="66" y="512" width="16" height="1" fill="#1e90ff"/><rect x="94" y="512" width="2" height="1" fill="#1e90ff"/><rect x="117" y="512" width="2" height="1" fill="#1e90ff"/><rect x="382" y="512" width="5" height="1" fill="#1e90ff"/><rect x="586" y="512" width="3" height="1" fill="#1e90ff"/><rect x="729" y="512" width="3" height="1" fill="#1e90ff"/><rect x="762" y="512" width="2" height="1" fill="#1e90ff"/><rect x="775" y="512" width="2" height="1" fill="#1e90ff"/><rect x="782" y="512" width="4" height="1" fill="#1e90ff"/><rect x="82" y="513" width="5" height="1" fill="#1e90ff"/><rect x="91" y="513" width="3" height="1" fill="#1e90ff"/><rect x="119" y="513" width="2" height="1" fill="#1e90ff"/><rect x="578" y="513" width="8" height="1" fill="#1e90ff"/><rect x="732" y="513" width="5" height="1" fill="#1e90ff"/><rect x="764" y="513" width="3" height="1" fill="#1e90ff"/><rect x="773" y="513" width="2" height="1" fill="#1e90ff"/><rect x="786" y="513" width="2" height="1" fill="#1e90ff"/><rect x="902" y="513" width="2" height="1" fill="#1e90ff"/><rect x="87" y="514" width="4" height="1" fill="#1e90ff"/><rect x="121" y="514" width="14" height="1" fill="#1e90ff"/><rect x="737" y="514" width="2" height="1" fill="#1e90ff"/><rect x="767" y="514" width="2" height="1" fill="#1e90ff"/><rect x="771" y="514" width="2" height="1" fill="#1e90ff"/><rect x="900" y="514" width="2" height="1" fill="#1e90ff"/><rect x="135" y="515" width="5" height="1" fill="#1e90ff"/><rect x="337" y="515" width="3" height="1" fill="#1e90ff"/><rect x="739" y="515" width="2" height="1" fill="#1e90ff"/><rect x="758" y="515" width="2" height="1" fill="#1e90ff"/><rect x="769" y="515" width="2" height="1" fill="#1e90ff"/><rect x="789" y="515" width="2" height="1" fill="#1e90ff"/><rect x="889" y="515" width="7" height="1" fill="#1e90ff"/><rect x="898" y="515" width="2" height="1" fill="#1e90ff"/><rect x="140" y="516" width="5" height="1" fill="#1e90ff"/><rect x="150" y="516" width="7" height="1" fill="#1e90ff"/><rect x="334" y="516" width="3" height="1" fill="#1e90ff"/><rect x="340" y="516" width="2" height="1" fill="#1e90ff"/><rect x="347" y="516" width="2" height="1" fill="#1e90ff"/><rect x="804" y="516" width="8" height="1" fill="#1e90ff"/><rect x="896" y="516" width="2" height="1" fill="#1e90ff"/><rect x="145" y="517" width="5" height="1" fill="#1e90ff"/><rect x="157" y="517" width="2" height="1" fill="#1e90ff"/><rect x="332" y="517" width="2" height="1" fill="#1e90ff"/><rect x="342" y="517" width="3" height="1" fill="#1e90ff"/><rect x="742" y="517" width="2" height="1" fill="#1e90ff"/><rect x="792" y="517" width="2" height="1" fill="#1e90ff"/><rect x="797" y="517" width="7" height="1" fill="#1e90ff"/><rect x="812" y="517" width="3" height="1" fill="#1e90ff"/><rect x="159" y="518" width="3" height="1" fill="#1e90ff"/><rect x="315" y="518" width="13" height="1" fill="#1e90ff"/><rect x="330" y="518" width="2" height="1" fill="#1e90ff"/><rect x="345" y="518" width="2" height="1" fill="#1e90ff"/><rect x="794" y="518" width="3" height="1" fill="#1e90ff"/><rect x="815" y="518" width="2" height="1" fill="#1e90ff"/><rect x="885" y="518" width="2" height="1" fill="#1e90ff"/><rect x="162" y="519" width="2" height="1" fill="#1e90ff"/><rect x="312" y="519" width="3" height="1" fill="#1e90ff"/><rect x="328" y="519" width="2" height="1" fill="#1e90ff"/><rect x="745" y="519" width="2" height="1" fill="#1e90ff"/><rect x="748" y="519" width="7" height="1" fill="#1e90ff"/><rect x="817" y="519" width="2" height="1" fill="#1e90ff"/><rect x="841" y="519" width="7" height="1" fill="#1e90ff"/><rect x="164" y="520" width="2" height="1" fill="#1e90ff"/><rect x="282" y="520" width="14" height="1" fill="#1e90ff"/><rect x="310" y="520" width="2" height="1" fill="#1e90ff"/><rect x="746" y="520" width="2" height="1" fill="#1e90ff"/><rect x="819" y="520" width="2" height="1" fill="#1e90ff"/><rect x="839" y="520" width="2" height="1" fill="#1e90ff"/><rect x="848" y="520" width="8" height="1" fill="#1e90ff"/><rect x="166" y="521" width="2" height="1" fill="#1e90ff"/><rect x="175" y="521" width="24" height="1" fill="#1e90ff"/><rect x="275" y="521" width="7" height="1" fill="#1e90ff"/><rect x="296" y="521" width="5" height="1" fill="#1e90ff"/><rect x="308" y="521" width="2" height="1" fill="#1e90ff"/><rect x="821" y="521" width="2" height="1" fill="#1e90ff"/><rect x="836" y="521" width="3" height="1" fill="#1e90ff"/><rect x="856" y="521" width="7" height="1" fill="#1e90ff"/><rect x="868" y="521" width="15" height="1" fill="#1e90ff"/><rect x="168" y="522" width="3" height="1" fill="#1e90ff"/><rect x="172" y="522" width="3" height="1" fill="#1e90ff"/><rect x="199" y="522" width="2" height="1" fill="#1e90ff"/><rect x="266" y="522" width="9" height="1" fill="#1e90ff"/><rect x="301" y="522" width="4" height="1" fill="#1e90ff"/><rect x="306" y="522" width="2" height="1" fill="#1e90ff"/><rect x="823" y="522" width="2" height="1" fill="#1e90ff"/><rect x="834" y="522" width="2" height="1" fill="#1e90ff"/><rect x="863" y="522" width="5" height="1" fill="#1e90ff"/><rect x="201" y="523" width="3" height="1" fill="#1e90ff"/><rect x="257" y="523" width="9" height="1" fill="#1e90ff"/><rect x="825" y="523" width="9" height="1" fill="#1e90ff"/><rect x="204" y="524" width="3" height="1" fill="#1e90ff"/><rect x="255" y="524" width="2" height="1" fill="#1e90ff"/><rect x="207" y="525" width="3" height="1" fill="#1e90ff"/><rect x="212" y="525" width="12" height="1" fill="#1e90ff"/><rect x="210" y="526" width="2" height="1" fill="#1e90ff"/><rect x="224" y="526" width="16" height="1" fill="#1e90ff"/><rect x="252" y="526" width="2" height="1" fill="#1e90ff"/><rect x="240" y="527" width="7" height="1" fill="#1e90ff"/><rect x="247" y="528" width="4" height="1" fill="#1e90ff"/><rect x="4" y="508" width="1" height="1" fill="#1e90ff"/><rect x="7" y="510" width="1" height="1" fill="#1e90ff"/><rect x="10" y="512" width="1" height="1" fill="#1e90ff"/><rect x="59" y="505" width="1" height="1" fill="#1e90ff"/><rect x="60" y="506" width="1" height="1" fill="#1e90ff"/><rect x="61" y="507" width="1" height="1" fill="#1e90ff"/><rect x="62" y="508" width="1" height="1" fill="#1e90ff"/><rect x="63" y="509" width="1" height="1" fill="#1e90ff"/><rect x="64" y="510" width="1" height="1" fill="#1e90ff"/><rect x="65" y="511" width="1" height="1" fill="#1e90ff"/><rect x="99" y="510" width="1" height="1" fill="#1e90ff"/><rect x="108" y="507" width="1" height="1" fill="#1e90ff"/><rect x="171" y="523" width="1" height="1" fill="#1e90ff"/><rect x="251" y="527" width="1" height="1" fill="#1e90ff"/><rect x="254" y="525" width="1" height="1" fill="#1e90ff"/><rect x="305" y="523" width="1" height="1" fill="#1e90ff"/><rect x="346" y="517" width="1" height="1" fill="#1e90ff"/><rect x="349" y="515" width="1" height="1" fill="#1e90ff"/><rect x="350" y="514" width="1" height="1" fill="#1e90ff"/><rect x="351" y="513" width="1" height="1" fill="#1e90ff"/><rect x="352" y="512" width="1" height="1" fill="#1e90ff"/><rect x="353" y="511" width="1" height="1" fill="#1e90ff"/><rect x="387" y="511" width="1" height="1" fill="#1e90ff"/><rect x="388" y="510" width="1" height="1" fill="#1e90ff"/><rect x="391" y="508" width="1" height="1" fill="#1e90ff"/><rect x="392" y="507" width="1" height="1" fill="#1e90ff"/><rect x="395" y="505" width="1" height="1" fill="#1e90ff"/><rect x="396" y="504" width="1" height="1" fill="#1e90ff"/><rect x="397" y="503" width="1" height="1" fill="#1e90ff"/><rect x="398" y="502" width="1" height="1" fill="#1e90ff"/><rect x="401" y="500" width="1" height="1" fill="#1e90ff"/><rect x="459" y="497" width="1" height="1" fill="#1e90ff"/><rect x="499" y="500" width="1" height="1" fill="#1e90ff"/><rect x="502" y="498" width="1" height="1" fill="#1e90ff"/><rect x="503" y="497" width="1" height="1" fill="#1e90ff"/><rect x="506" y="495" width="1" height="1" fill="#1e90ff"/><rect x="509" y="497" width="1" height="1" fill="#1e90ff"/><rect x="510" y="498" width="1" height="1" fill="#1e90ff"/><rect x="513" y="500" width="1" height="1" fill="#1e90ff"/><rect x="562" y="498" width="1" height="1" fill="#1e90ff"/><rect x="565" y="500" width="1" height="1" fill="#1e90ff"/><rect x="566" y="501" width="1" height="1" fill="#1e90ff"/><rect x="569" y="503" width="1" height="1" fill="#1e90ff"/><rect x="570" y="504" width="1" height="1" fill="#1e90ff"/><rect x="571" y="505" width="1" height="1" fill="#1e90ff"/><rect x="572" y="506" width="1" height="1" fill="#1e90ff"/><rect x="573" y="507" width="1" height="1" fill="#1e90ff"/><rect x="574" y="508" width="1" height="1" fill="#1e90ff"/><rect x="575" y="509" width="1" height="1" fill="#1e90ff"/><rect x="576" y="510" width="1" height="2" fill="#1e90ff"/><rect x="577" y="512" width="1" height="1" fill="#1e90ff"/><rect x="613" y="506" width="1" height="1" fill="#1e90ff"/><rect x="642" y="507" width="1" height="1" fill="#1e90ff"/><rect x="645" y="505" width="1" height="1" fill="#1e90ff"/><rect x="677" y="503" width="1" height="1" fill="#1e90ff"/><rect x="741" y="516" width="1" height="1" fill="#1e90ff"/><rect x="744" y="518" width="1" height="1" fill="#1e90ff"/><rect x="755" y="518" width="1" height="1" fill="#1e90ff"/><rect x="756" y="517" width="1" height="1" fill="#1e90ff"/><rect x="757" y="516" width="1" height="1" fill="#1e90ff"/><rect x="760" y="514" width="1" height="1" fill="#1e90ff"/><rect x="761" y="513" width="1" height="1" fill="#1e90ff"/><rect x="788" y="514" width="1" height="1" fill="#1e90ff"/><rect x="791" y="516" width="1" height="1" fill="#1e90ff"/><rect x="883" y="520" width="1" height="1" fill="#1e90ff"/><rect x="884" y="519" width="1" height="1" fill="#1e90ff"/><rect x="887" y="517" width="1" height="1" fill="#1e90ff"/><rect x="888" y="516" width="1" height="1" fill="#1e90ff"/><rect x="904" y="512" width="1" height="1" fill="#1e90ff"/><rect x="1165" y="477" width="1" height="1" fill="#000"/><rect x="1165" y="546" width="1" height="1" fill="#000"/><rect x="2" y="548" width="1" height="3" fill="#000"/><rect x="66" y="548" width="1" height="3" fill="#000"/><rect x="130" y="548" width="1" height="3" fill="#000"/><rect x="194" y="548" width="1" height="3" fill="#000"/><rect x="258" y="548" width="1" height="3" fill="#000"/><rect x="322" y="548" width="1" height="3" fill="#000"/><rect x="386" y="548" width="1" height="3" fill="#000"/><rect x="450" y="548" width="1" height="3" fill="#000"/><rect x="514" y="548" width="1" height="3" fill="#000"/><rect x="578" y="548" width="1" height="3" fill="#000"/><rect x="642" y="548" width="1" height="3" fill="#000"/><rect x="706" y="548" width="1" height="3" fill="#000"/><rect x="770" y="548" width="1" height="3" fill="#000"/><rect x="834" y="548" width="1" height="3" fill="#000"/><rect x="898" y="548" width="1" height="3" fill="#000"/><rect x="5" y="30" width="7" height="1" fill="#000"/><rect x="6" y="31" width="5" height="1" fill="#000"/><rect x="7" y="32" width="3" height="1" fill="#000"/><rect x="8" y="33" width="1" height="1" fill="#000"/></svg>
<div class="t" style="left:17px;top:28px;font-size:9.5px;transform:scaleX(1.02);transform-origin:0 0;text-rendering:geometricPrecision">USDCAD-,Daily</div>
<div class="t ax" style="left:92.3px;top:28px">1.26250</div>
<div class="t ax" style="left:128.4px;top:28px">1.26498</div>
<div class="t ax" style="left:164.4px;top:28px">1.26173</div>
<div class="t ax" style="left:200.3px;top:28px">1.26400</div>
<div class="t ax" style="left:1170.5px;top:32.5px">1.29750</div>
<div class="t ax" style="left:1170.5px;top:65.5px">1.29105</div>
<div class="t ax" style="left:1170.5px;top:98.5px">1.28475</div>
<div class="t ax" style="left:1170.5px;top:131.5px">1.27830</div>
<div class="t ax" style="left:1170.5px;top:164.5px">1.27200</div>
<div class="t ax" style="left:1170.5px;top:197.5px">1.26570</div>
<div class="t ax" style="left:1170.5px;top:230.5px">1.25925</div>
<div class="t ax" style="left:1170.5px;top:263.5px">1.25295</div>
<div class="t ax" style="left:1170.5px;top:296.5px">1.24650</div>
<div class="t ax" style="left:1170.5px;top:329.5px">1.24020</div>
<div class="t ax" style="left:1170.5px;top:362.5px">1.23375</div>
<div class="t ax" style="left:1170.5px;top:395.5px">1.22745</div>
<div class="tag" style="top:77px;background:#ff0000;height:11px"><span>1.28851</span></div>
<div class="tag" style="top:146px;background:#00ff00;height:11px"><span>1.27515</span></div>
<div class="tag" style="top:205px;background:#000000;height:11px"><span>1.26400</span></div>
<div class="tag" style="top:214px;background:#0000ff;height:11px"><span>1.26199</span></div>
<div class="tag" style="top:276px;background:#0000ff;height:11px"><span>1.24995</span></div>
<div class="tag" style="top:338px;background:#0000ff;height:11px"><span>1.23810</span></div>
<div class="t ax" style="left:6px;top:409px;font-size:9.5px;transform:scaleX(.98)">MACD(12,26,9) -0.003868 -0.005845</div>
<div class="t ax" style="left:6px;top:480.5px;font-size:9.5px;transform:scaleX(.98)">RSI(14) 51.7906</div>
<div class="t ax" style="left:1168px;top:407.9px">0.009345</div>
<div class="t ax" style="left:1168px;top:436.7px">0.00</div>
<div class="t ax" style="left:1168.5px;top:462.9px">-0.00890</div>
<div class="t ax" style="left:1168.5px;top:478.9px">100</div>
<div class="t ax" style="left:1168.5px;top:494px">70</div>
<div class="t ax" style="left:1168.5px;top:522px">30</div>
<div class="t ax" style="left:1168.5px;top:536.8px">0</div>
<div class="t ax" style="left:1.2px;top:553px;transform:scaleX(.965)">14 Sep 2021</div>
<div class="t ax" style="left:65.2px;top:553px;transform:scaleX(.965)">23 Sep 2021</div>
<div class="t ax" style="left:129.2px;top:553px;transform:scaleX(.965)">3 Oct 2021</div>
<div class="t ax" style="left:193.2px;top:553px;transform:scaleX(.965)">12 Oct 2021</div>
<div class="t ax" style="left:257.2px;top:553px;transform:scaleX(.965)">21 Oct 2021</div>
<div class="t ax" style="left:321.2px;top:553px;transform:scaleX(.965)">31 Oct 2021</div>
<div class="t ax" style="left:385.2px;top:553px;transform:scaleX(.965)">9 Nov 2021</div>
<div class="t ax" style="left:449.2px;top:553px;transform:scaleX(.965)">18 Nov 2021</div>
<div class="t ax" style="left:513.2px;top:553px;transform:scaleX(.965)">28 Nov 2021</div>
<div class="t ax" style="left:577.2px;top:553px;transform:scaleX(.965)">7 Dec 2021</div>
<div class="t ax" style="left:641.2px;top:553px;transform:scaleX(.965)">16 Dec 2021</div>
<div class="t ax" style="left:705.2px;top:553px;transform:scaleX(.965)">26 Dec 2021</div>
<div class="t ax" style="left:769.2px;top:553px;transform:scaleX(.965)">4 Jan 2022</div>
<div class="t ax" style="left:833.2px;top:553px;transform:scaleX(.965)">13 Jan 2022</div>
<div class="t ax" style="left:897.2px;top:553px;transform:scaleX(.965)">23 Jan 2022</div>
<div style="position:absolute;left:0;top:568px;width:1204px;height:1px;background:#e6e6e6"></div>
<div style="position:absolute;left:0;top:570px;width:1204px;height:1px;background:#000"></div>
<div style="position:absolute;left:0;top:571px;width:1204px;height:19px;background:#f0f0f0"></div>
<div style="position:absolute;left:0;top:590px;width:1204px;height:1px;background:#fdfdfd"></div>
<div style="position:absolute;left:0;top:591px;width:1204px;height:2px;background:#f0f0f0"></div>
<div style="position:absolute;left:0;top:593px;width:1204px;height:1px;background:#d4d4d4"></div>
<div style="position:absolute;left:0;top:594px;width:1204px;height:1px;background:#a8a8a8"></div>
<div style="position:absolute;left:0;top:595px;width:1204px;height:1px;background:#dcdcdc"></div>
<div style="position:absolute;left:415px;top:570px;width:106px;height:18px;background:#fff;border-left:1px solid #000;border-right:1px solid #000;border-bottom:1px solid #000"></div>
<div style="position:absolute;left:523px;top:571px;width:1px;height:18px;background:#8c8c8c"></div>
<div style="position:absolute;left:416px;top:589px;width:108px;height:1px;background:#8c8c8c"></div>
<div class="t tab" style="left:14.6px;top:575px;color:#6e6e6e">USDX,Weekly</div>
<div class="t tab" style="left:114px;top:575px;color:#6e6e6e">EURUSD-,Daily</div>
<div class="t tab" style="left:221px;top:575px;color:#6e6e6e">AUDUSD-,Daily</div>
<div class="t tab" style="left:331px;top:575px;color:#6e6e6e">USDCHF-,H4</div>
<div class="t tab" style="left:426.7px;top:575px;color:#000;font-size:12.15px">USDCAD-,Daily</div>
<div class="t tab" style="left:535.5px;top:575px;color:#6e6e6e">USDCNH-,Daily</div>
<div class="t tab" style="left:646px;top:575px;color:#6e6e6e">XAUUSD-,H1</div>
<div class="t tab" style="left:742px;top:575px;color:#6e6e6e">UKOil-,Daily</div>
<div class="t tab" style="left:835px;top:575px;color:#6e6e6e">DJ30-,Daily</div>
<div class="t tab" style="left:922px;top:575px;color:#6e6e6e">UK100-,H1</div>
<div style="position:absolute;left:103px;top:573px;width:1px;height:14px;background:#5a5a5a"></div>
<div style="position:absolute;left:211px;top:573px;width:1px;height:14px;background:#5a5a5a"></div>
<div style="position:absolute;left:319px;top:573px;width:1px;height:14px;background:#5a5a5a"></div>
<div style="position:absolute;left:635px;top:573px;width:1px;height:14px;background:#5a5a5a"></div>
<div style="position:absolute;left:731px;top:573px;width:1px;height:14px;background:#5a5a5a"></div>
<div style="position:absolute;left:823px;top:573px;width:1px;height:14px;background:#5a5a5a"></div>
<div style="position:absolute;left:911px;top:573px;width:1px;height:14px;background:#5a5a5a"></div>
<div style="position:absolute;left:995px;top:573px;width:1px;height:14px;background:#5a5a5a"></div>
<svg style="position:absolute;left:1169.6px;top:573px" width="34" height="12" viewBox="0 0 34 12"><path d="M13.4 2.8 L13.4 9.2 L10 6 Z" fill="#8c8c8c"/><path d="M29 2.8 L29 9.2 L32.4 6 Z" fill="#8c8c8c"/></svg>
<div class="t tb" style="left:-2.5px;top:4px">5</div>
<div class="t tb" style="left:13px;top:4px">M30</div>
<div class="t tb" style="left:44.2px;top:4px">H1</div>
<div class="t tb" style="left:71.3px;top:4px">H4</div>
<div class="t tb" style="left:100.6px;top:4px">D1</div>
<div class="t tb" style="left:128px;top:4px">W1</div>
<div class="t tb" style="left:154.8px;top:4px">MN</div>
</body></html>
